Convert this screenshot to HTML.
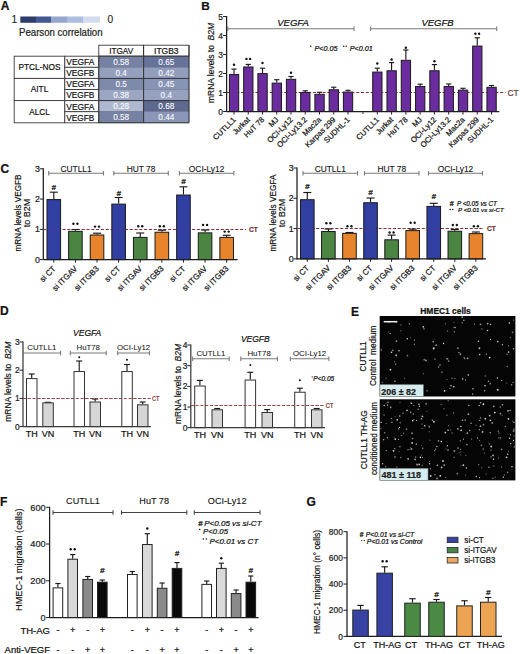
<!DOCTYPE html>
<html><head><meta charset="utf-8"><style>
html,body{margin:0;padding:0;background:#fff;}
svg{display:block;font-family:"Liberation Sans", sans-serif;}
</style></head><body>
<svg width="520" height="654" viewBox="0 0 520 654">
<rect width="520" height="654" fill="#fff"/>
<text x="0.8" y="9.8" font-size="12" fill="#111" font-weight="bold" stroke="#111" stroke-width="0.22">A</text>
<text x="11.5" y="23.2" font-size="10.2" fill="#222" stroke="#222" stroke-width="0.1">1</text>
<rect x="20.3" y="16.5" width="15.7" height="6.3" fill="#2f3d6c"/>
<rect x="35.8" y="16.5" width="15.7" height="6.3" fill="#435890"/>
<rect x="51.3" y="16.5" width="15.9" height="6.3" fill="#95a7ce"/>
<rect x="67" y="16.5" width="16.2" height="6.3" fill="#adbddf"/>
<rect x="83" y="16.5" width="16.9" height="6.3" fill="#d3dcec"/>
<text x="107.6" y="23.2" font-size="10.2" fill="#222" stroke="#222" stroke-width="0.1">0</text>
<text x="19" y="36" font-size="10" fill="#222" textLength="83.5" lengthAdjust="spacingAndGlyphs" stroke="#222" stroke-width="0.22">Pearson correlation</text>
<rect x="98.8" y="45.2" width="44.8" height="11" fill="#fff" stroke="#3a3a3a" stroke-width="0.9"/>
<rect x="143.6" y="45.2" width="45.4" height="11" fill="#fff" stroke="#3a3a3a" stroke-width="0.9"/>
<text x="121.2" y="53.8" font-size="8.8" fill="#111" text-anchor="middle" textLength="24" lengthAdjust="spacingAndGlyphs" stroke="#111" stroke-width="0.22">ITGAV</text>
<text x="166.3" y="53.8" font-size="8.8" fill="#111" text-anchor="middle" textLength="24.5" lengthAdjust="spacingAndGlyphs" stroke="#111" stroke-width="0.22">ITGB3</text>
<rect x="14.2" y="56.2" width="50.6" height="22.2" fill="#fff" stroke="#3a3a3a" stroke-width="0.9"/>
<text x="39.5" y="70.2" font-size="9.6" fill="#111" text-anchor="middle" textLength="42" lengthAdjust="spacingAndGlyphs" stroke="#111" stroke-width="0.22">PTCL-NOS</text>
<rect x="64.8" y="56.2" width="34" height="11.1" fill="#fff" stroke="#3a3a3a" stroke-width="0.9"/>
<text x="66.3" y="65.1" font-size="9" fill="#111" textLength="28" lengthAdjust="spacingAndGlyphs" stroke="#111" stroke-width="0.22">VEGFA</text>
<rect x="98.8" y="56.2" width="44.8" height="11.1" fill="#7582a3" stroke="#6a7184" stroke-width="0.5"/>
<rect x="143.6" y="56.2" width="45.4" height="11.1" fill="#66729a" stroke="#6a7184" stroke-width="0.5"/>
<text x="121.2" y="64.6" font-size="8.2" fill="#fff" text-anchor="middle" stroke="#fff" stroke-width="0.08">0.58</text>
<text x="166.3" y="64.6" font-size="8.2" fill="#fff" text-anchor="middle" stroke="#fff" stroke-width="0.08">0.65</text>
<rect x="64.8" y="67.3" width="34" height="11.1" fill="#fff" stroke="#3a3a3a" stroke-width="0.9"/>
<text x="66.3" y="76.2" font-size="9" fill="#111" textLength="28" lengthAdjust="spacingAndGlyphs" stroke="#111" stroke-width="0.22">VEGFB</text>
<rect x="98.8" y="67.3" width="44.8" height="11.1" fill="#95a0bf" stroke="#6a7184" stroke-width="0.5"/>
<rect x="143.6" y="67.3" width="45.4" height="11.1" fill="#929ebc" stroke="#6a7184" stroke-width="0.5"/>
<text x="121.2" y="75.7" font-size="8.2" fill="#fff" text-anchor="middle" stroke="#fff" stroke-width="0.08">0.4</text>
<text x="166.3" y="75.7" font-size="8.2" fill="#fff" text-anchor="middle" stroke="#fff" stroke-width="0.08">0.42</text>
<rect x="14.2" y="78.4" width="50.6" height="22.2" fill="#fff" stroke="#3a3a3a" stroke-width="0.9"/>
<text x="39.5" y="92.4" font-size="9.6" fill="#111" text-anchor="middle" textLength="17.5" lengthAdjust="spacingAndGlyphs" stroke="#111" stroke-width="0.22">AITL</text>
<rect x="64.8" y="78.4" width="34" height="11.1" fill="#fff" stroke="#3a3a3a" stroke-width="0.9"/>
<text x="66.3" y="87.3" font-size="9" fill="#111" textLength="28" lengthAdjust="spacingAndGlyphs" stroke="#111" stroke-width="0.22">VEGFA</text>
<rect x="98.8" y="78.4" width="44.8" height="11.1" fill="#7e8aab" stroke="#6a7184" stroke-width="0.5"/>
<rect x="143.6" y="78.4" width="45.4" height="11.1" fill="#8894b6" stroke="#6a7184" stroke-width="0.5"/>
<text x="121.2" y="86.8" font-size="8.2" fill="#fff" text-anchor="middle" stroke="#fff" stroke-width="0.08">0.5</text>
<text x="166.3" y="86.8" font-size="8.2" fill="#fff" text-anchor="middle" stroke="#fff" stroke-width="0.08">0.45</text>
<rect x="64.8" y="89.5" width="34" height="11.1" fill="#fff" stroke="#3a3a3a" stroke-width="0.9"/>
<text x="66.3" y="98.4" font-size="9" fill="#111" textLength="28" lengthAdjust="spacingAndGlyphs" stroke="#111" stroke-width="0.22">VEGFB</text>
<rect x="98.8" y="89.5" width="44.8" height="11.1" fill="#9ba6c3" stroke="#6a7184" stroke-width="0.5"/>
<rect x="143.6" y="89.5" width="45.4" height="11.1" fill="#96a1bf" stroke="#6a7184" stroke-width="0.5"/>
<text x="121.2" y="97.9" font-size="8.2" fill="#fff" text-anchor="middle" stroke="#fff" stroke-width="0.08">0.38</text>
<text x="166.3" y="97.9" font-size="8.2" fill="#fff" text-anchor="middle" stroke="#fff" stroke-width="0.08">0.4</text>
<rect x="14.2" y="100.6" width="50.6" height="22.2" fill="#fff" stroke="#3a3a3a" stroke-width="0.9"/>
<text x="39.5" y="114.6" font-size="9.6" fill="#111" text-anchor="middle" textLength="20.5" lengthAdjust="spacingAndGlyphs" stroke="#111" stroke-width="0.22">ALCL</text>
<rect x="64.8" y="100.6" width="34" height="11.1" fill="#fff" stroke="#3a3a3a" stroke-width="0.9"/>
<text x="66.3" y="109.5" font-size="9" fill="#111" textLength="28" lengthAdjust="spacingAndGlyphs" stroke="#111" stroke-width="0.22">VEGFA</text>
<rect x="98.8" y="100.6" width="44.8" height="11.1" fill="#afb8d1" stroke="#6a7184" stroke-width="0.5"/>
<rect x="143.6" y="100.6" width="45.4" height="11.1" fill="#5d698f" stroke="#6a7184" stroke-width="0.5"/>
<text x="121.2" y="109" font-size="8.2" fill="#fff" text-anchor="middle" stroke="#fff" stroke-width="0.08">0.28</text>
<text x="166.3" y="109" font-size="8.2" fill="#fff" text-anchor="middle" stroke="#fff" stroke-width="0.08">0.68</text>
<rect x="64.8" y="111.7" width="34" height="11.1" fill="#fff" stroke="#3a3a3a" stroke-width="0.9"/>
<text x="66.3" y="120.6" font-size="9" fill="#111" textLength="28" lengthAdjust="spacingAndGlyphs" stroke="#111" stroke-width="0.22">VEGFB</text>
<rect x="98.8" y="111.7" width="44.8" height="11.1" fill="#7582a3" stroke="#6a7184" stroke-width="0.5"/>
<rect x="143.6" y="111.7" width="45.4" height="11.1" fill="#8b97b8" stroke="#6a7184" stroke-width="0.5"/>
<text x="121.2" y="120.1" font-size="8.2" fill="#fff" text-anchor="middle" stroke="#fff" stroke-width="0.08">0.58</text>
<text x="166.3" y="120.1" font-size="8.2" fill="#fff" text-anchor="middle" stroke="#fff" stroke-width="0.08">0.44</text>
<line x1="98.8" y1="56.2" x2="189" y2="56.2" stroke="#333" stroke-width="1.0"/>
<line x1="98.8" y1="78.4" x2="189" y2="78.4" stroke="#333" stroke-width="1.0"/>
<line x1="98.8" y1="100.6" x2="189" y2="100.6" stroke="#333" stroke-width="1.0"/>
<line x1="98.8" y1="122.8" x2="189" y2="122.8" stroke="#333" stroke-width="1.0"/>
<line x1="98.8" y1="56.2" x2="98.8" y2="122.8" stroke="#333" stroke-width="1.0"/>
<line x1="143.6" y1="45.2" x2="143.6" y2="122.8" stroke="#333" stroke-width="1.0"/>
<line x1="189" y1="45.2" x2="189" y2="122.8" stroke="#333" stroke-width="1.0"/>
<text x="201.3" y="9.5" font-size="11.8" fill="#111" font-weight="bold" stroke="#111" stroke-width="0.22">B</text>
<line x1="226.6" y1="16" x2="226.6" y2="112" stroke="#1c1c1c" stroke-width="1.25"/>
<line x1="223.1" y1="111.5" x2="226.6" y2="111.5" stroke="#222" stroke-width="1"/>
<text x="223" y="115" font-size="8.4" fill="#222" text-anchor="end" stroke="#222" stroke-width="0.22">0</text>
<line x1="223.1" y1="92.5" x2="226.6" y2="92.5" stroke="#222" stroke-width="1"/>
<text x="223" y="96" font-size="8.4" fill="#222" text-anchor="end" stroke="#222" stroke-width="0.22">1</text>
<line x1="223.1" y1="73.5" x2="226.6" y2="73.5" stroke="#222" stroke-width="1"/>
<text x="223" y="77" font-size="8.4" fill="#222" text-anchor="end" stroke="#222" stroke-width="0.22">2</text>
<line x1="223.1" y1="54.5" x2="226.6" y2="54.5" stroke="#222" stroke-width="1"/>
<text x="223" y="58" font-size="8.4" fill="#222" text-anchor="end" stroke="#222" stroke-width="0.22">3</text>
<line x1="223.1" y1="35.5" x2="226.6" y2="35.5" stroke="#222" stroke-width="1"/>
<text x="223" y="39" font-size="8.4" fill="#222" text-anchor="end" stroke="#222" stroke-width="0.22">4</text>
<line x1="223.1" y1="16.5" x2="226.6" y2="16.5" stroke="#222" stroke-width="1"/>
<text x="223" y="20" font-size="8.4" fill="#222" text-anchor="end" stroke="#222" stroke-width="0.22">5</text>
<line x1="226.6" y1="111.5" x2="499.3" y2="111.5" stroke="#1c1c1c" stroke-width="1.25"/>
<line x1="226.6" y1="92.5" x2="505.5" y2="92.5" stroke="#843030" stroke-width="1.0" stroke-dasharray="3,1.8"/>
<line x1="234" y1="74.07" x2="234" y2="69.1" stroke="#1a1a1a" stroke-width="1.15"/>
<line x1="231.4" y1="69.1" x2="236.6" y2="69.1" stroke="#1a1a1a" stroke-width="1.15"/>
<rect x="229.4" y="74.57" width="9.3" height="36.93" fill="#6a2c9e" stroke="#1a1a1a" stroke-width="1.0"/>
<line x1="234" y1="111.5" x2="234" y2="114.5" stroke="#222" stroke-width="1"/>
<circle cx="234" cy="64.7" r="1.2" fill="#111"/>
<text x="236.3" y="120.3" font-size="7.7" fill="#111" text-anchor="end" transform="rotate(-45 236.3 120.3)" stroke="#111" stroke-width="0.22">CUTLL1</text>
<line x1="248.25" y1="66.47" x2="248.25" y2="64.4" stroke="#1a1a1a" stroke-width="1.15"/>
<line x1="245.65" y1="64.4" x2="250.85" y2="64.4" stroke="#1a1a1a" stroke-width="1.15"/>
<rect x="243.65" y="66.97" width="9.3" height="44.53" fill="#6a2c9e" stroke="#1a1a1a" stroke-width="1.0"/>
<line x1="248.25" y1="111.5" x2="248.25" y2="114.5" stroke="#222" stroke-width="1"/>
<circle cx="246.4" cy="58.9" r="1.2" fill="#111"/>
<circle cx="250.1" cy="58.9" r="1.2" fill="#111"/>
<text x="250.55" y="120.3" font-size="7.7" fill="#111" text-anchor="end" transform="rotate(-45 250.55 120.3)" stroke="#111" stroke-width="0.22">Jurkat</text>
<line x1="262.5" y1="73.12" x2="262.5" y2="68.2" stroke="#1a1a1a" stroke-width="1.15"/>
<line x1="259.9" y1="68.2" x2="265.1" y2="68.2" stroke="#1a1a1a" stroke-width="1.15"/>
<rect x="257.9" y="73.62" width="9.3" height="37.88" fill="#6a2c9e" stroke="#1a1a1a" stroke-width="1.0"/>
<line x1="262.5" y1="111.5" x2="262.5" y2="114.5" stroke="#222" stroke-width="1"/>
<circle cx="262.5" cy="63" r="1.2" fill="#111"/>
<text x="264.8" y="120.3" font-size="7.7" fill="#111" text-anchor="end" transform="rotate(-45 264.8 120.3)" stroke="#111" stroke-width="0.22">HuT 78</text>
<line x1="276.75" y1="82.62" x2="276.75" y2="79.7" stroke="#1a1a1a" stroke-width="1.15"/>
<line x1="274.15" y1="79.7" x2="279.35" y2="79.7" stroke="#1a1a1a" stroke-width="1.15"/>
<rect x="272.15" y="83.12" width="9.3" height="28.38" fill="#6a2c9e" stroke="#1a1a1a" stroke-width="1.0"/>
<line x1="276.75" y1="111.5" x2="276.75" y2="114.5" stroke="#222" stroke-width="1"/>
<text x="279.05" y="120.3" font-size="7.7" fill="#111" text-anchor="end" transform="rotate(-45 279.05 120.3)" stroke="#111" stroke-width="0.22">MJ</text>
<line x1="291" y1="78.82" x2="291" y2="76.5" stroke="#1a1a1a" stroke-width="1.15"/>
<line x1="288.4" y1="76.5" x2="293.6" y2="76.5" stroke="#1a1a1a" stroke-width="1.15"/>
<rect x="286.4" y="79.32" width="9.3" height="32.18" fill="#6a2c9e" stroke="#1a1a1a" stroke-width="1.0"/>
<line x1="291" y1="111.5" x2="291" y2="114.5" stroke="#222" stroke-width="1"/>
<circle cx="291" cy="72.7" r="1.2" fill="#111"/>
<text x="293.3" y="120.3" font-size="7.7" fill="#111" text-anchor="end" transform="rotate(-45 293.3 120.3)" stroke="#111" stroke-width="0.22">OCI-Ly12</text>
<line x1="305.25" y1="91.93" x2="305.25" y2="90.8" stroke="#1a1a1a" stroke-width="1.15"/>
<line x1="302.65" y1="90.8" x2="307.85" y2="90.8" stroke="#1a1a1a" stroke-width="1.15"/>
<rect x="300.65" y="92.43" width="9.3" height="19.07" fill="#6a2c9e" stroke="#1a1a1a" stroke-width="1.0"/>
<line x1="305.25" y1="111.5" x2="305.25" y2="114.5" stroke="#222" stroke-width="1"/>
<text x="307.55" y="120.3" font-size="7.7" fill="#111" text-anchor="end" transform="rotate(-45 307.55 120.3)" stroke="#111" stroke-width="0.22">OCI-Ly13.2</text>
<line x1="319.5" y1="93.83" x2="319.5" y2="92.3" stroke="#1a1a1a" stroke-width="1.15"/>
<line x1="316.9" y1="92.3" x2="322.1" y2="92.3" stroke="#1a1a1a" stroke-width="1.15"/>
<rect x="314.9" y="94.33" width="9.3" height="17.17" fill="#6a2c9e" stroke="#1a1a1a" stroke-width="1.0"/>
<line x1="319.5" y1="111.5" x2="319.5" y2="114.5" stroke="#222" stroke-width="1"/>
<text x="321.8" y="120.3" font-size="7.7" fill="#111" text-anchor="end" transform="rotate(-45 321.8 120.3)" stroke="#111" stroke-width="0.22">Mac2a</text>
<line x1="333.75" y1="89.27" x2="333.75" y2="87.2" stroke="#1a1a1a" stroke-width="1.15"/>
<line x1="331.15" y1="87.2" x2="336.35" y2="87.2" stroke="#1a1a1a" stroke-width="1.15"/>
<rect x="329.15" y="89.77" width="9.3" height="21.73" fill="#6a2c9e" stroke="#1a1a1a" stroke-width="1.0"/>
<line x1="333.75" y1="111.5" x2="333.75" y2="114.5" stroke="#222" stroke-width="1"/>
<text x="336.05" y="120.3" font-size="7.7" fill="#111" text-anchor="end" transform="rotate(-45 336.05 120.3)" stroke="#111" stroke-width="0.22">Karpas 299</text>
<line x1="348" y1="91.55" x2="348" y2="90.3" stroke="#1a1a1a" stroke-width="1.15"/>
<line x1="345.4" y1="90.3" x2="350.6" y2="90.3" stroke="#1a1a1a" stroke-width="1.15"/>
<rect x="343.4" y="92.05" width="9.3" height="19.45" fill="#6a2c9e" stroke="#1a1a1a" stroke-width="1.0"/>
<line x1="348" y1="111.5" x2="348" y2="114.5" stroke="#222" stroke-width="1"/>
<text x="350.3" y="120.3" font-size="7.7" fill="#111" text-anchor="end" transform="rotate(-45 350.3 120.3)" stroke="#111" stroke-width="0.22">SUDHL-1</text>
<line x1="377.3" y1="71.6" x2="377.3" y2="68.2" stroke="#1a1a1a" stroke-width="1.15"/>
<line x1="374.7" y1="68.2" x2="379.9" y2="68.2" stroke="#1a1a1a" stroke-width="1.15"/>
<rect x="372.7" y="72.1" width="9.3" height="39.4" fill="#6a2c9e" stroke="#1a1a1a" stroke-width="1.0"/>
<line x1="377.3" y1="111.5" x2="377.3" y2="114.5" stroke="#222" stroke-width="1"/>
<circle cx="377.3" cy="63.5" r="1.2" fill="#111"/>
<text x="379.6" y="120.3" font-size="7.7" fill="#111" text-anchor="end" transform="rotate(-45 379.6 120.3)" stroke="#111" stroke-width="0.22">CUTLL1</text>
<line x1="391.58" y1="70.27" x2="391.58" y2="62.6" stroke="#1a1a1a" stroke-width="1.15"/>
<line x1="388.98" y1="62.6" x2="394.18" y2="62.6" stroke="#1a1a1a" stroke-width="1.15"/>
<rect x="386.98" y="70.77" width="9.3" height="40.73" fill="#6a2c9e" stroke="#1a1a1a" stroke-width="1.0"/>
<line x1="391.58" y1="111.5" x2="391.58" y2="114.5" stroke="#222" stroke-width="1"/>
<circle cx="391.58" cy="59.5" r="1.2" fill="#111"/>
<text x="393.88" y="120.3" font-size="7.7" fill="#111" text-anchor="end" transform="rotate(-45 393.88 120.3)" stroke="#111" stroke-width="0.22">Jurkat</text>
<line x1="405.86" y1="59.82" x2="405.86" y2="50" stroke="#1a1a1a" stroke-width="1.15"/>
<line x1="403.26" y1="50" x2="408.46" y2="50" stroke="#1a1a1a" stroke-width="1.15"/>
<rect x="401.26" y="60.32" width="9.3" height="51.18" fill="#6a2c9e" stroke="#1a1a1a" stroke-width="1.0"/>
<line x1="405.86" y1="111.5" x2="405.86" y2="114.5" stroke="#222" stroke-width="1"/>
<circle cx="405.86" cy="47.7" r="1.2" fill="#111"/>
<text x="408.16" y="120.3" font-size="7.7" fill="#111" text-anchor="end" transform="rotate(-45 408.16 120.3)" stroke="#111" stroke-width="0.22">HuT 78</text>
<line x1="420.14" y1="86.04" x2="420.14" y2="84.2" stroke="#1a1a1a" stroke-width="1.15"/>
<line x1="417.54" y1="84.2" x2="422.74" y2="84.2" stroke="#1a1a1a" stroke-width="1.15"/>
<rect x="415.54" y="86.54" width="9.3" height="24.96" fill="#6a2c9e" stroke="#1a1a1a" stroke-width="1.0"/>
<line x1="420.14" y1="111.5" x2="420.14" y2="114.5" stroke="#222" stroke-width="1"/>
<text x="422.44" y="120.3" font-size="7.7" fill="#111" text-anchor="end" transform="rotate(-45 422.44 120.3)" stroke="#111" stroke-width="0.22">MJ</text>
<line x1="434.42" y1="70.27" x2="434.42" y2="64.6" stroke="#1a1a1a" stroke-width="1.15"/>
<line x1="431.82" y1="64.6" x2="437.02" y2="64.6" stroke="#1a1a1a" stroke-width="1.15"/>
<rect x="429.82" y="70.77" width="9.3" height="40.73" fill="#6a2c9e" stroke="#1a1a1a" stroke-width="1.0"/>
<line x1="434.42" y1="111.5" x2="434.42" y2="114.5" stroke="#222" stroke-width="1"/>
<circle cx="434.42" cy="61.2" r="1.2" fill="#111"/>
<text x="436.72" y="120.3" font-size="7.7" fill="#111" text-anchor="end" transform="rotate(-45 436.72 120.3)" stroke="#111" stroke-width="0.22">OCI-Ly12</text>
<line x1="448.7" y1="86.04" x2="448.7" y2="84" stroke="#1a1a1a" stroke-width="1.15"/>
<line x1="446.1" y1="84" x2="451.3" y2="84" stroke="#1a1a1a" stroke-width="1.15"/>
<rect x="444.1" y="86.54" width="9.3" height="24.96" fill="#6a2c9e" stroke="#1a1a1a" stroke-width="1.0"/>
<line x1="448.7" y1="111.5" x2="448.7" y2="114.5" stroke="#222" stroke-width="1"/>
<text x="451" y="120.3" font-size="7.7" fill="#111" text-anchor="end" transform="rotate(-45 451 120.3)" stroke="#111" stroke-width="0.22">OCI-Ly13.2</text>
<line x1="462.98" y1="89.65" x2="462.98" y2="88.3" stroke="#1a1a1a" stroke-width="1.15"/>
<line x1="460.38" y1="88.3" x2="465.58" y2="88.3" stroke="#1a1a1a" stroke-width="1.15"/>
<rect x="458.38" y="90.15" width="9.3" height="21.35" fill="#6a2c9e" stroke="#1a1a1a" stroke-width="1.0"/>
<line x1="462.98" y1="111.5" x2="462.98" y2="114.5" stroke="#222" stroke-width="1"/>
<text x="465.28" y="120.3" font-size="7.7" fill="#111" text-anchor="end" transform="rotate(-45 465.28 120.3)" stroke="#111" stroke-width="0.22">Mac2a</text>
<line x1="477.26" y1="45.57" x2="477.26" y2="37.8" stroke="#1a1a1a" stroke-width="1.15"/>
<line x1="474.66" y1="37.8" x2="479.86" y2="37.8" stroke="#1a1a1a" stroke-width="1.15"/>
<rect x="472.66" y="46.07" width="9.3" height="65.43" fill="#6a2c9e" stroke="#1a1a1a" stroke-width="1.0"/>
<line x1="477.26" y1="111.5" x2="477.26" y2="114.5" stroke="#222" stroke-width="1"/>
<circle cx="475.41" cy="33.8" r="1.2" fill="#111"/>
<circle cx="479.11" cy="33.8" r="1.2" fill="#111"/>
<text x="479.56" y="120.3" font-size="7.7" fill="#111" text-anchor="end" transform="rotate(-45 479.56 120.3)" stroke="#111" stroke-width="0.22">Karpas 299</text>
<line x1="491.54" y1="86.8" x2="491.54" y2="85.5" stroke="#1a1a1a" stroke-width="1.15"/>
<line x1="488.94" y1="85.5" x2="494.14" y2="85.5" stroke="#1a1a1a" stroke-width="1.15"/>
<rect x="486.94" y="87.3" width="9.3" height="24.2" fill="#6a2c9e" stroke="#1a1a1a" stroke-width="1.0"/>
<line x1="491.54" y1="111.5" x2="491.54" y2="114.5" stroke="#222" stroke-width="1"/>
<text x="493.84" y="120.3" font-size="7.7" fill="#111" text-anchor="end" transform="rotate(-45 493.84 120.3)" stroke="#111" stroke-width="0.22">SUDHL-1</text>
<line x1="363" y1="111.5" x2="363" y2="114" stroke="#222" stroke-width="0.9"/>
<line x1="226.6" y1="92.5" x2="505.5" y2="92.5" stroke="#843030" stroke-width="1.0" stroke-dasharray="3,1.8" stroke-opacity="0.2"/>
<text x="507.4" y="96" font-size="9.0" fill="#654040" textLength="11.3" lengthAdjust="spacingAndGlyphs" stroke="#654040" stroke-width="0.22">CT</text>
<line x1="227.7" y1="28.7" x2="354" y2="28.7" stroke="#7a7a7a" stroke-width="1.1"/>
<line x1="227.7" y1="26.5" x2="227.7" y2="30.9" stroke="#7a7a7a" stroke-width="1.1"/>
<line x1="354" y1="26.5" x2="354" y2="30.9" stroke="#7a7a7a" stroke-width="1.1"/>
<line x1="370.6" y1="28.7" x2="496.7" y2="28.7" stroke="#7a7a7a" stroke-width="1.1"/>
<line x1="370.6" y1="26.5" x2="370.6" y2="30.9" stroke="#7a7a7a" stroke-width="1.1"/>
<line x1="496.7" y1="26.5" x2="496.7" y2="30.9" stroke="#7a7a7a" stroke-width="1.1"/>
<text x="293" y="26" font-size="9.5" fill="#111" text-anchor="middle" font-style="italic" stroke="#111" stroke-width="0.22">VEGFA</text>
<text x="437.5" y="26" font-size="9.5" fill="#111" text-anchor="middle" font-style="italic" stroke="#111" stroke-width="0.22">VEGFB</text>
<circle cx="310.8" cy="46.2" r="0.75" fill="#111"/>
<text x="314.4" y="50.8" font-size="7.2" fill="#111" font-style="italic" textLength="23" lengthAdjust="spacingAndGlyphs" stroke="#111" stroke-width="0.22">P&lt;0.05</text>
<circle cx="343.7" cy="46.2" r="0.75" fill="#111"/>
<circle cx="346.1" cy="46.2" r="0.75" fill="#111"/>
<text x="349.7" y="50.8" font-size="7.2" fill="#111" font-style="italic" textLength="23" lengthAdjust="spacingAndGlyphs" stroke="#111" stroke-width="0.22">P&lt;0.01</text>
<text transform="translate(214.3 63) rotate(-90)" font-size="9.3" text-anchor="middle" fill="#111" stroke="#111" stroke-width="0.18" textLength="80" lengthAdjust="spacingAndGlyphs">mRNA levels to&#160;&#160;<tspan font-style="italic">B2M</tspan></text>
<text x="0.4" y="172.8" font-size="12" fill="#111" font-weight="bold" stroke="#111" stroke-width="0.22">C</text>
<line x1="43.3" y1="168.3" x2="43.3" y2="260.1" stroke="#1c1c1c" stroke-width="1.25"/>
<line x1="39.8" y1="259.6" x2="43.3" y2="259.6" stroke="#222" stroke-width="1"/>
<text x="39.9" y="262.6" font-size="8.9" fill="#222" text-anchor="end" stroke="#222" stroke-width="0.22">0</text>
<line x1="39.8" y1="229.33" x2="43.3" y2="229.33" stroke="#222" stroke-width="1"/>
<text x="39.9" y="232.33" font-size="8.9" fill="#222" text-anchor="end" stroke="#222" stroke-width="0.22">1</text>
<line x1="39.8" y1="199.07" x2="43.3" y2="199.07" stroke="#222" stroke-width="1"/>
<text x="39.9" y="202.07" font-size="8.9" fill="#222" text-anchor="end" stroke="#222" stroke-width="0.22">2</text>
<line x1="39.8" y1="168.8" x2="43.3" y2="168.8" stroke="#222" stroke-width="1"/>
<text x="39.9" y="171.8" font-size="8.9" fill="#222" text-anchor="end" stroke="#222" stroke-width="0.22">3</text>
<line x1="43.3" y1="229.5" x2="246" y2="229.5" stroke="#843030" stroke-width="1.0" stroke-dasharray="3,1.8"/>
<line x1="53.8" y1="199.07" x2="53.8" y2="192.2" stroke="#1a1a1a" stroke-width="1.15"/>
<line x1="49.8" y1="192.2" x2="57.8" y2="192.2" stroke="#1a1a1a" stroke-width="1.15"/>
<rect x="47" y="199.57" width="13.6" height="60.03" fill="#313ea2" stroke="#1a1a1a" stroke-width="1.0"/>
<line x1="53.8" y1="259.6" x2="53.8" y2="262.6" stroke="#222" stroke-width="1"/>
<text x="53.8" y="190.3" font-size="8" fill="#111" text-anchor="middle" font-weight="bold" font-style="italic" stroke="#111" stroke-width="0.22">#</text>
<text x="56.2" y="269.2" font-size="8" fill="#111" text-anchor="end" transform="rotate(-45 56.2 269.2)" stroke="#111" stroke-width="0.22">si CT</text>
<line x1="75.41" y1="230.85" x2="75.41" y2="229.5" stroke="#1a1a1a" stroke-width="1.15"/>
<line x1="71.41" y1="229.5" x2="79.41" y2="229.5" stroke="#1a1a1a" stroke-width="1.15"/>
<rect x="68.61" y="231.35" width="13.6" height="28.25" fill="#4a8542" stroke="#1a1a1a" stroke-width="1.0"/>
<line x1="75.41" y1="259.6" x2="75.41" y2="262.6" stroke="#222" stroke-width="1"/>
<circle cx="73.41" cy="223.8" r="1.2" fill="#111"/>
<circle cx="77.41" cy="223.8" r="1.2" fill="#111"/>
<text x="77.81" y="269.2" font-size="8" fill="#111" text-anchor="end" transform="rotate(-45 77.81 269.2)" stroke="#111" stroke-width="0.22">si ITGAV</text>
<line x1="97.02" y1="234.48" x2="97.02" y2="233.2" stroke="#1a1a1a" stroke-width="1.15"/>
<line x1="93.02" y1="233.2" x2="101.02" y2="233.2" stroke="#1a1a1a" stroke-width="1.15"/>
<rect x="90.22" y="234.98" width="13.6" height="24.62" fill="#e8852c" stroke="#1a1a1a" stroke-width="1.0"/>
<line x1="97.02" y1="259.6" x2="97.02" y2="262.6" stroke="#222" stroke-width="1"/>
<circle cx="95.02" cy="226.6" r="1.2" fill="#111"/>
<circle cx="99.02" cy="226.6" r="1.2" fill="#111"/>
<text x="99.42" y="269.2" font-size="8" fill="#111" text-anchor="end" transform="rotate(-45 99.42 269.2)" stroke="#111" stroke-width="0.22">si ITGB3</text>
<line x1="118.63" y1="203.61" x2="118.63" y2="197.5" stroke="#1a1a1a" stroke-width="1.15"/>
<line x1="114.63" y1="197.5" x2="122.63" y2="197.5" stroke="#1a1a1a" stroke-width="1.15"/>
<rect x="111.83" y="204.11" width="13.6" height="55.49" fill="#313ea2" stroke="#1a1a1a" stroke-width="1.0"/>
<line x1="118.63" y1="259.6" x2="118.63" y2="262.6" stroke="#222" stroke-width="1"/>
<text x="118.63" y="196" font-size="8" fill="#111" text-anchor="middle" font-weight="bold" font-style="italic" stroke="#111" stroke-width="0.22">#</text>
<text x="121.03" y="269.2" font-size="8" fill="#111" text-anchor="end" transform="rotate(-45 121.03 269.2)" stroke="#111" stroke-width="0.22">si CT</text>
<line x1="140.24" y1="236.9" x2="140.24" y2="233" stroke="#1a1a1a" stroke-width="1.15"/>
<line x1="136.24" y1="233" x2="144.24" y2="233" stroke="#1a1a1a" stroke-width="1.15"/>
<rect x="133.44" y="237.4" width="13.6" height="22.2" fill="#4a8542" stroke="#1a1a1a" stroke-width="1.0"/>
<line x1="140.24" y1="259.6" x2="140.24" y2="262.6" stroke="#222" stroke-width="1"/>
<circle cx="138.24" cy="226.2" r="1.2" fill="#111"/>
<circle cx="142.24" cy="226.2" r="1.2" fill="#111"/>
<text x="142.64" y="269.2" font-size="8" fill="#111" text-anchor="end" transform="rotate(-45 142.64 269.2)" stroke="#111" stroke-width="0.22">si ITGAV</text>
<line x1="161.85" y1="231.75" x2="161.85" y2="230.2" stroke="#1a1a1a" stroke-width="1.15"/>
<line x1="157.85" y1="230.2" x2="165.85" y2="230.2" stroke="#1a1a1a" stroke-width="1.15"/>
<rect x="155.05" y="232.25" width="13.6" height="27.35" fill="#e8852c" stroke="#1a1a1a" stroke-width="1.0"/>
<line x1="161.85" y1="259.6" x2="161.85" y2="262.6" stroke="#222" stroke-width="1"/>
<circle cx="159.85" cy="226.2" r="1.2" fill="#111"/>
<circle cx="163.85" cy="226.2" r="1.2" fill="#111"/>
<text x="164.25" y="269.2" font-size="8" fill="#111" text-anchor="end" transform="rotate(-45 164.25 269.2)" stroke="#111" stroke-width="0.22">si ITGB3</text>
<line x1="183.46" y1="194.53" x2="183.46" y2="186.8" stroke="#1a1a1a" stroke-width="1.15"/>
<line x1="179.46" y1="186.8" x2="187.46" y2="186.8" stroke="#1a1a1a" stroke-width="1.15"/>
<rect x="176.66" y="195.03" width="13.6" height="64.57" fill="#313ea2" stroke="#1a1a1a" stroke-width="1.0"/>
<line x1="183.46" y1="259.6" x2="183.46" y2="262.6" stroke="#222" stroke-width="1"/>
<text x="183.46" y="183.7" font-size="8" fill="#111" text-anchor="middle" font-weight="bold" font-style="italic" stroke="#111" stroke-width="0.22">#</text>
<text x="185.86" y="269.2" font-size="8" fill="#111" text-anchor="end" transform="rotate(-45 185.86 269.2)" stroke="#111" stroke-width="0.22">si CT</text>
<line x1="205.07" y1="232.36" x2="205.07" y2="230" stroke="#1a1a1a" stroke-width="1.15"/>
<line x1="201.07" y1="230" x2="209.07" y2="230" stroke="#1a1a1a" stroke-width="1.15"/>
<rect x="198.27" y="232.86" width="13.6" height="26.74" fill="#4a8542" stroke="#1a1a1a" stroke-width="1.0"/>
<line x1="205.07" y1="259.6" x2="205.07" y2="262.6" stroke="#222" stroke-width="1"/>
<circle cx="203.07" cy="224.9" r="1.2" fill="#111"/>
<circle cx="207.07" cy="224.9" r="1.2" fill="#111"/>
<text x="207.47" y="269.2" font-size="8" fill="#111" text-anchor="end" transform="rotate(-45 207.47 269.2)" stroke="#111" stroke-width="0.22">si ITGAV</text>
<line x1="226.68" y1="236.9" x2="226.68" y2="235.3" stroke="#1a1a1a" stroke-width="1.15"/>
<line x1="222.68" y1="235.3" x2="230.68" y2="235.3" stroke="#1a1a1a" stroke-width="1.15"/>
<rect x="219.88" y="237.4" width="13.6" height="22.2" fill="#e8852c" stroke="#1a1a1a" stroke-width="1.0"/>
<line x1="226.68" y1="259.6" x2="226.68" y2="262.6" stroke="#222" stroke-width="1"/>
<circle cx="224.68" cy="231.6" r="1.2" fill="#111"/>
<circle cx="228.68" cy="231.6" r="1.2" fill="#111"/>
<text x="229.08" y="269.2" font-size="8" fill="#111" text-anchor="end" transform="rotate(-45 229.08 269.2)" stroke="#111" stroke-width="0.22">si ITGB3</text>
<line x1="43.3" y1="259.6" x2="237.6" y2="259.6" stroke="#1c1c1c" stroke-width="1.25"/>
<line x1="43.3" y1="229.5" x2="246" y2="229.5" stroke="#843030" stroke-width="1.0" stroke-dasharray="3,1.8" stroke-opacity="0.2"/>
<line x1="48.7" y1="173.3" x2="103.5" y2="173.3" stroke="#7a7a7a" stroke-width="1.1"/>
<line x1="48.7" y1="171.1" x2="48.7" y2="175.5" stroke="#7a7a7a" stroke-width="1.1"/>
<line x1="103.5" y1="171.1" x2="103.5" y2="175.5" stroke="#7a7a7a" stroke-width="1.1"/>
<text x="76.1" y="171.6" font-size="8.4" fill="#111" text-anchor="middle" stroke="#111" stroke-width="0.1">CUTLL1</text>
<line x1="113.8" y1="173.3" x2="168.3" y2="173.3" stroke="#7a7a7a" stroke-width="1.1"/>
<line x1="113.8" y1="171.1" x2="113.8" y2="175.5" stroke="#7a7a7a" stroke-width="1.1"/>
<line x1="168.3" y1="171.1" x2="168.3" y2="175.5" stroke="#7a7a7a" stroke-width="1.1"/>
<text x="141.05" y="171.6" font-size="8.4" fill="#111" text-anchor="middle" stroke="#111" stroke-width="0.1">HUT 78</text>
<line x1="179.4" y1="173.3" x2="233.8" y2="173.3" stroke="#7a7a7a" stroke-width="1.1"/>
<line x1="179.4" y1="171.1" x2="179.4" y2="175.5" stroke="#7a7a7a" stroke-width="1.1"/>
<line x1="233.8" y1="171.1" x2="233.8" y2="175.5" stroke="#7a7a7a" stroke-width="1.1"/>
<text x="206.6" y="171.6" font-size="8.4" fill="#111" text-anchor="middle" stroke="#111" stroke-width="0.1">OCI-Ly12</text>
<text x="249" y="231.9" font-size="7.2" fill="#6a3535" font-weight="bold" textLength="8.8" lengthAdjust="spacingAndGlyphs" stroke="#6a3535" stroke-width="0.22">CT</text>
<text transform="translate(20.6 213) rotate(-90)" font-size="8.3" text-anchor="middle" fill="#111" stroke="#111" stroke-width="0.18" textLength="77" lengthAdjust="spacingAndGlyphs">mRNA levels VEGFB</text>
<text transform="translate(29.6 213) rotate(-90)" font-size="8.3" text-anchor="middle" fill="#111" stroke="#111" stroke-width="0.18" textLength="28.3" lengthAdjust="spacingAndGlyphs">to B2M</text>
<line x1="297" y1="167.5" x2="297" y2="259.4" stroke="#1c1c1c" stroke-width="1.25"/>
<line x1="293.5" y1="258.9" x2="297" y2="258.9" stroke="#222" stroke-width="1"/>
<text x="293.6" y="261.9" font-size="8.9" fill="#222" text-anchor="end" stroke="#222" stroke-width="0.22">0</text>
<line x1="293.5" y1="228.6" x2="297" y2="228.6" stroke="#222" stroke-width="1"/>
<text x="293.6" y="231.6" font-size="8.9" fill="#222" text-anchor="end" stroke="#222" stroke-width="0.22">1</text>
<line x1="293.5" y1="198.3" x2="297" y2="198.3" stroke="#222" stroke-width="1"/>
<text x="293.6" y="201.3" font-size="8.9" fill="#222" text-anchor="end" stroke="#222" stroke-width="0.22">2</text>
<line x1="293.5" y1="168" x2="297" y2="168" stroke="#222" stroke-width="1"/>
<text x="293.6" y="171" font-size="8.9" fill="#222" text-anchor="end" stroke="#222" stroke-width="0.22">3</text>
<line x1="297" y1="228.5" x2="484" y2="228.5" stroke="#843030" stroke-width="1.0" stroke-dasharray="3,1.8"/>
<line x1="307.3" y1="199.21" x2="307.3" y2="192.5" stroke="#1a1a1a" stroke-width="1.15"/>
<line x1="303.3" y1="192.5" x2="311.3" y2="192.5" stroke="#1a1a1a" stroke-width="1.15"/>
<rect x="300.5" y="199.71" width="13.6" height="59.19" fill="#313ea2" stroke="#1a1a1a" stroke-width="1.0"/>
<line x1="307.3" y1="258.9" x2="307.3" y2="261.9" stroke="#222" stroke-width="1"/>
<text x="307.3" y="189" font-size="8" fill="#111" text-anchor="middle" font-weight="bold" font-style="italic" stroke="#111" stroke-width="0.22">#</text>
<text x="309.7" y="268.5" font-size="8" fill="#111" text-anchor="end" transform="rotate(-45 309.7 268.5)" stroke="#111" stroke-width="0.22">si CT</text>
<line x1="328.38" y1="231.02" x2="328.38" y2="229" stroke="#1a1a1a" stroke-width="1.15"/>
<line x1="324.38" y1="229" x2="332.38" y2="229" stroke="#1a1a1a" stroke-width="1.15"/>
<rect x="321.57" y="231.52" width="13.6" height="27.38" fill="#4a8542" stroke="#1a1a1a" stroke-width="1.0"/>
<line x1="328.38" y1="258.9" x2="328.38" y2="261.9" stroke="#222" stroke-width="1"/>
<circle cx="326.38" cy="223.2" r="1.2" fill="#111"/>
<circle cx="330.38" cy="223.2" r="1.2" fill="#111"/>
<text x="330.77" y="268.5" font-size="8" fill="#111" text-anchor="end" transform="rotate(-45 330.77 268.5)" stroke="#111" stroke-width="0.22">si ITGAV</text>
<line x1="349.45" y1="232.84" x2="349.45" y2="232.5" stroke="#1a1a1a" stroke-width="1.15"/>
<line x1="345.45" y1="232.5" x2="353.45" y2="232.5" stroke="#1a1a1a" stroke-width="1.15"/>
<rect x="342.65" y="233.34" width="13.6" height="25.56" fill="#e8852c" stroke="#1a1a1a" stroke-width="1.0"/>
<line x1="349.45" y1="258.9" x2="349.45" y2="261.9" stroke="#222" stroke-width="1"/>
<circle cx="347.45" cy="226.2" r="1.2" fill="#111"/>
<circle cx="351.45" cy="226.2" r="1.2" fill="#111"/>
<text x="351.85" y="268.5" font-size="8" fill="#111" text-anchor="end" transform="rotate(-45 351.85 268.5)" stroke="#111" stroke-width="0.22">si ITGB3</text>
<line x1="370.53" y1="202.24" x2="370.53" y2="198" stroke="#1a1a1a" stroke-width="1.15"/>
<line x1="366.53" y1="198" x2="374.53" y2="198" stroke="#1a1a1a" stroke-width="1.15"/>
<rect x="363.73" y="202.74" width="13.6" height="56.16" fill="#313ea2" stroke="#1a1a1a" stroke-width="1.0"/>
<line x1="370.53" y1="258.9" x2="370.53" y2="261.9" stroke="#222" stroke-width="1"/>
<text x="370.53" y="195.2" font-size="8" fill="#111" text-anchor="middle" font-weight="bold" font-style="italic" stroke="#111" stroke-width="0.22">#</text>
<text x="372.93" y="268.5" font-size="8" fill="#111" text-anchor="end" transform="rotate(-45 372.93 268.5)" stroke="#111" stroke-width="0.22">si CT</text>
<line x1="391.6" y1="239.3" x2="391.6" y2="235.1" stroke="#1a1a1a" stroke-width="1.15"/>
<line x1="387.6" y1="235.1" x2="395.6" y2="235.1" stroke="#1a1a1a" stroke-width="1.15"/>
<rect x="384.8" y="239.8" width="13.6" height="19.1" fill="#4a8542" stroke="#1a1a1a" stroke-width="1.0"/>
<line x1="391.6" y1="258.9" x2="391.6" y2="261.9" stroke="#222" stroke-width="1"/>
<circle cx="389.6" cy="232.5" r="1.2" fill="#111"/>
<circle cx="393.6" cy="232.5" r="1.2" fill="#111"/>
<text x="394" y="268.5" font-size="8" fill="#111" text-anchor="end" transform="rotate(-45 394 268.5)" stroke="#111" stroke-width="0.22">si ITGAV</text>
<line x1="412.68" y1="230.11" x2="412.68" y2="229.1" stroke="#1a1a1a" stroke-width="1.15"/>
<line x1="408.68" y1="229.1" x2="416.68" y2="229.1" stroke="#1a1a1a" stroke-width="1.15"/>
<rect x="405.88" y="230.61" width="13.6" height="28.28" fill="#e8852c" stroke="#1a1a1a" stroke-width="1.0"/>
<line x1="412.68" y1="258.9" x2="412.68" y2="261.9" stroke="#222" stroke-width="1"/>
<circle cx="410.68" cy="222.8" r="1.2" fill="#111"/>
<circle cx="414.68" cy="222.8" r="1.2" fill="#111"/>
<text x="415.07" y="268.5" font-size="8" fill="#111" text-anchor="end" transform="rotate(-45 415.07 268.5)" stroke="#111" stroke-width="0.22">si ITGB3</text>
<line x1="433.75" y1="205.88" x2="433.75" y2="203.3" stroke="#1a1a1a" stroke-width="1.15"/>
<line x1="429.75" y1="203.3" x2="437.75" y2="203.3" stroke="#1a1a1a" stroke-width="1.15"/>
<rect x="426.95" y="206.38" width="13.6" height="52.52" fill="#313ea2" stroke="#1a1a1a" stroke-width="1.0"/>
<line x1="433.75" y1="258.9" x2="433.75" y2="261.9" stroke="#222" stroke-width="1"/>
<text x="433.75" y="198.5" font-size="8" fill="#111" text-anchor="middle" font-weight="bold" font-style="italic" stroke="#111" stroke-width="0.22">#</text>
<text x="436.15" y="268.5" font-size="8" fill="#111" text-anchor="end" transform="rotate(-45 436.15 268.5)" stroke="#111" stroke-width="0.22">si CT</text>
<line x1="454.82" y1="230.72" x2="454.82" y2="229.5" stroke="#1a1a1a" stroke-width="1.15"/>
<line x1="450.82" y1="229.5" x2="458.82" y2="229.5" stroke="#1a1a1a" stroke-width="1.15"/>
<rect x="448.02" y="231.22" width="13.6" height="27.68" fill="#4a8542" stroke="#1a1a1a" stroke-width="1.0"/>
<line x1="454.82" y1="258.9" x2="454.82" y2="261.9" stroke="#222" stroke-width="1"/>
<circle cx="452.82" cy="225" r="1.2" fill="#111"/>
<circle cx="456.82" cy="225" r="1.2" fill="#111"/>
<text x="457.22" y="268.5" font-size="8" fill="#111" text-anchor="end" transform="rotate(-45 457.22 268.5)" stroke="#111" stroke-width="0.22">si ITGAV</text>
<line x1="475.9" y1="233.14" x2="475.9" y2="232" stroke="#1a1a1a" stroke-width="1.15"/>
<line x1="471.9" y1="232" x2="479.9" y2="232" stroke="#1a1a1a" stroke-width="1.15"/>
<rect x="469.1" y="233.64" width="13.6" height="25.25" fill="#e8852c" stroke="#1a1a1a" stroke-width="1.0"/>
<line x1="475.9" y1="258.9" x2="475.9" y2="261.9" stroke="#222" stroke-width="1"/>
<circle cx="473.9" cy="226.2" r="1.2" fill="#111"/>
<circle cx="477.9" cy="226.2" r="1.2" fill="#111"/>
<text x="478.3" y="268.5" font-size="8" fill="#111" text-anchor="end" transform="rotate(-45 478.3 268.5)" stroke="#111" stroke-width="0.22">si ITGB3</text>
<line x1="297" y1="258.9" x2="486" y2="258.9" stroke="#1c1c1c" stroke-width="1.25"/>
<line x1="297" y1="228.5" x2="484" y2="228.5" stroke="#843030" stroke-width="1.0" stroke-dasharray="3,1.8" stroke-opacity="0.2"/>
<line x1="303" y1="173.3" x2="357.5" y2="173.3" stroke="#7a7a7a" stroke-width="1.1"/>
<line x1="303" y1="171.1" x2="303" y2="175.5" stroke="#7a7a7a" stroke-width="1.1"/>
<line x1="357.5" y1="171.1" x2="357.5" y2="175.5" stroke="#7a7a7a" stroke-width="1.1"/>
<text x="330.25" y="171.6" font-size="8.4" fill="#111" text-anchor="middle" stroke="#111" stroke-width="0.1">CUTLL1</text>
<line x1="364.5" y1="173.3" x2="419" y2="173.3" stroke="#7a7a7a" stroke-width="1.1"/>
<line x1="364.5" y1="171.1" x2="364.5" y2="175.5" stroke="#7a7a7a" stroke-width="1.1"/>
<line x1="419" y1="171.1" x2="419" y2="175.5" stroke="#7a7a7a" stroke-width="1.1"/>
<text x="391.75" y="171.6" font-size="8.4" fill="#111" text-anchor="middle" stroke="#111" stroke-width="0.1">HUT 78</text>
<line x1="428.5" y1="173.3" x2="482.5" y2="173.3" stroke="#7a7a7a" stroke-width="1.1"/>
<line x1="428.5" y1="171.1" x2="428.5" y2="175.5" stroke="#7a7a7a" stroke-width="1.1"/>
<line x1="482.5" y1="171.1" x2="482.5" y2="175.5" stroke="#7a7a7a" stroke-width="1.1"/>
<text x="455.5" y="171.6" font-size="8.4" fill="#111" text-anchor="middle" stroke="#111" stroke-width="0.1">OCI-Ly12</text>
<text x="487" y="231.2" font-size="7.2" fill="#6a3535" font-weight="bold" textLength="8.8" lengthAdjust="spacingAndGlyphs" stroke="#6a3535" stroke-width="0.22">CT</text>
<text transform="translate(275.6 213) rotate(-90)" font-size="8.3" text-anchor="middle" fill="#111" stroke="#111" stroke-width="0.18" textLength="77" lengthAdjust="spacingAndGlyphs">mRNA levels VEGFA</text>
<text transform="translate(284.6 213) rotate(-90)" font-size="8.3" text-anchor="middle" fill="#111" stroke="#111" stroke-width="0.18" textLength="28.3" lengthAdjust="spacingAndGlyphs">to B2M</text>
<text x="451.6" y="206" font-size="7" fill="#111" text-anchor="middle" font-weight="bold" stroke="#111" stroke-width="0.22">#</text>
<text x="456.9" y="205.6" font-size="6.3" fill="#111" font-style="italic" textLength="40" lengthAdjust="spacingAndGlyphs" stroke="#111" stroke-width="0.22">P &lt;0.05 vs CT</text>
<circle cx="450.2" cy="209.6" r="0.75" fill="#111"/>
<circle cx="452.8" cy="209.6" r="0.75" fill="#111"/>
<text x="458.1" y="211.9" font-size="6.2" fill="#111" font-style="italic" textLength="45.6" lengthAdjust="spacingAndGlyphs" stroke="#111" stroke-width="0.22">P &lt;0.01 vs si-CT</text>
<text x="0.1" y="315.3" font-size="12" fill="#111" font-weight="bold" stroke="#111" stroke-width="0.22">D</text>
<line x1="23" y1="341.5" x2="23" y2="427.1" stroke="#3a3a3a" stroke-width="1.25"/>
<line x1="19.5" y1="426.6" x2="23" y2="426.6" stroke="#222" stroke-width="1"/>
<text x="19.6" y="429.6" font-size="8.4" fill="#222" text-anchor="end" stroke="#222" stroke-width="0.22">0</text>
<line x1="19.5" y1="398.4" x2="23" y2="398.4" stroke="#222" stroke-width="1"/>
<text x="19.6" y="401.4" font-size="8.4" fill="#222" text-anchor="end" stroke="#222" stroke-width="0.22">1</text>
<line x1="19.5" y1="370.2" x2="23" y2="370.2" stroke="#222" stroke-width="1"/>
<text x="19.6" y="373.2" font-size="8.4" fill="#222" text-anchor="end" stroke="#222" stroke-width="0.22">2</text>
<line x1="19.5" y1="342" x2="23" y2="342" stroke="#222" stroke-width="1"/>
<text x="19.6" y="345" font-size="8.4" fill="#222" text-anchor="end" stroke="#222" stroke-width="0.22">3</text>
<line x1="23" y1="398.5" x2="150.4" y2="398.5" stroke="#9a4040" stroke-width="0.95" stroke-dasharray="3,1.8"/>
<line x1="31.7" y1="378.1" x2="31.7" y2="374" stroke="#1a1a1a" stroke-width="1.15"/>
<line x1="28.7" y1="374" x2="34.7" y2="374" stroke="#1a1a1a" stroke-width="1.15"/>
<rect x="26.5" y="378.6" width="10.5" height="48" fill="#ffffff" stroke="#333" stroke-width="1.0"/>
<line x1="48" y1="402.35" x2="48" y2="402.3" stroke="#1a1a1a" stroke-width="1.15"/>
<line x1="45" y1="402.3" x2="51" y2="402.3" stroke="#1a1a1a" stroke-width="1.15"/>
<rect x="42.8" y="402.85" width="10.5" height="23.75" fill="#d6d6d6" stroke="#333" stroke-width="1.0"/>
<text x="31.7" y="437.2" font-size="9" fill="#111" text-anchor="middle" stroke="#111" stroke-width="0.22">TH</text>
<text x="48" y="437.2" font-size="9" fill="#111" text-anchor="middle" stroke="#111" stroke-width="0.22">VN</text>
<line x1="79.2" y1="371.05" x2="79.2" y2="361" stroke="#1a1a1a" stroke-width="1.15"/>
<line x1="76.2" y1="361" x2="82.2" y2="361" stroke="#1a1a1a" stroke-width="1.15"/>
<rect x="74" y="371.55" width="10.5" height="55.05" fill="#ffffff" stroke="#333" stroke-width="1.0"/>
<line x1="95.2" y1="401.5" x2="95.2" y2="399" stroke="#1a1a1a" stroke-width="1.15"/>
<line x1="92.2" y1="399" x2="98.2" y2="399" stroke="#1a1a1a" stroke-width="1.15"/>
<rect x="90" y="402" width="10.5" height="24.6" fill="#d6d6d6" stroke="#333" stroke-width="1.0"/>
<circle cx="79.2" cy="357.3" r="1.0" fill="#111"/>
<text x="79.2" y="437.2" font-size="9" fill="#111" text-anchor="middle" stroke="#111" stroke-width="0.22">TH</text>
<text x="95.2" y="437.2" font-size="9" fill="#111" text-anchor="middle" stroke="#111" stroke-width="0.22">VN</text>
<line x1="127" y1="371.05" x2="127" y2="364.5" stroke="#1a1a1a" stroke-width="1.15"/>
<line x1="124" y1="364.5" x2="130" y2="364.5" stroke="#1a1a1a" stroke-width="1.15"/>
<rect x="121.8" y="371.55" width="10.5" height="55.05" fill="#ffffff" stroke="#333" stroke-width="1.0"/>
<line x1="142.7" y1="404.32" x2="142.7" y2="402" stroke="#1a1a1a" stroke-width="1.15"/>
<line x1="139.7" y1="402" x2="145.7" y2="402" stroke="#1a1a1a" stroke-width="1.15"/>
<rect x="137.5" y="404.82" width="10.5" height="21.78" fill="#d6d6d6" stroke="#333" stroke-width="1.0"/>
<circle cx="127" cy="359.7" r="1.0" fill="#111"/>
<text x="127" y="437.2" font-size="9" fill="#111" text-anchor="middle" stroke="#111" stroke-width="0.22">TH</text>
<text x="142.7" y="437.2" font-size="9" fill="#111" text-anchor="middle" stroke="#111" stroke-width="0.22">VN</text>
<line x1="23" y1="426.6" x2="151" y2="426.6" stroke="#3a3a3a" stroke-width="1.25"/>
<line x1="23" y1="398.5" x2="150.4" y2="398.5" stroke="#9a4040" stroke-width="0.95" stroke-dasharray="3,1.8"/>
<line x1="23" y1="353" x2="60.6" y2="353" stroke="#7a7a7a" stroke-width="1.1"/>
<line x1="23" y1="350.8" x2="23" y2="355.2" stroke="#7a7a7a" stroke-width="1.1"/>
<line x1="60.6" y1="350.8" x2="60.6" y2="355.2" stroke="#7a7a7a" stroke-width="1.1"/>
<text x="41.8" y="349.7" font-size="7.8" fill="#111" text-anchor="middle" stroke="#111" stroke-width="0.05">CUTLL1</text>
<line x1="70.3" y1="353" x2="106.2" y2="353" stroke="#7a7a7a" stroke-width="1.1"/>
<line x1="70.3" y1="350.8" x2="70.3" y2="355.2" stroke="#7a7a7a" stroke-width="1.1"/>
<line x1="106.2" y1="350.8" x2="106.2" y2="355.2" stroke="#7a7a7a" stroke-width="1.1"/>
<text x="88.25" y="349.7" font-size="7.8" fill="#111" text-anchor="middle" stroke="#111" stroke-width="0.05">HuT78</text>
<line x1="117.7" y1="353" x2="149.5" y2="353" stroke="#7a7a7a" stroke-width="1.1"/>
<line x1="117.7" y1="350.8" x2="117.7" y2="355.2" stroke="#7a7a7a" stroke-width="1.1"/>
<line x1="149.5" y1="350.8" x2="149.5" y2="355.2" stroke="#7a7a7a" stroke-width="1.1"/>
<text x="133.6" y="349.7" font-size="7.8" fill="#111" text-anchor="middle" stroke="#111" stroke-width="0.05">OCI-Ly12</text>
<text x="151.9" y="400.7" font-size="7.4" fill="#8a4545" font-weight="bold" textLength="7.6" lengthAdjust="spacingAndGlyphs" stroke="#8a4545" stroke-width="0.05">CT</text>
<text x="87.2" y="335.7" font-size="8.5" fill="#111" text-anchor="middle" font-style="italic" stroke="#111" stroke-width="0.22">VEGFA</text>
<text transform="translate(11 381.7) rotate(-90)" font-size="9" text-anchor="middle" fill="#111" stroke="#111" stroke-width="0.18" textLength="80" lengthAdjust="spacingAndGlyphs">mRNA levels to&#160;&#160;<tspan font-style="italic">B2M</tspan></text>
<line x1="190.8" y1="344.5" x2="190.8" y2="428.2" stroke="#3a3a3a" stroke-width="1.25"/>
<line x1="187.3" y1="427.7" x2="190.8" y2="427.7" stroke="#222" stroke-width="1"/>
<text x="187.4" y="430.7" font-size="8.4" fill="#222" text-anchor="end" stroke="#222" stroke-width="0.22">0</text>
<line x1="187.3" y1="407.02" x2="190.8" y2="407.02" stroke="#222" stroke-width="1"/>
<text x="187.4" y="410.02" font-size="8.4" fill="#222" text-anchor="end" stroke="#222" stroke-width="0.22">1</text>
<line x1="187.3" y1="386.35" x2="190.8" y2="386.35" stroke="#222" stroke-width="1"/>
<text x="187.4" y="389.35" font-size="8.4" fill="#222" text-anchor="end" stroke="#222" stroke-width="0.22">2</text>
<line x1="187.3" y1="365.68" x2="190.8" y2="365.68" stroke="#222" stroke-width="1"/>
<text x="187.4" y="368.68" font-size="8.4" fill="#222" text-anchor="end" stroke="#222" stroke-width="0.22">3</text>
<line x1="187.3" y1="345" x2="190.8" y2="345" stroke="#222" stroke-width="1"/>
<text x="187.4" y="348" font-size="8.4" fill="#222" text-anchor="end" stroke="#222" stroke-width="0.22">4</text>
<line x1="190.8" y1="405.5" x2="323.9" y2="405.5" stroke="#9a4040" stroke-width="0.95" stroke-dasharray="3,1.8"/>
<line x1="199.9" y1="385.52" x2="199.9" y2="380.4" stroke="#1a1a1a" stroke-width="1.15"/>
<line x1="196.9" y1="380.4" x2="202.9" y2="380.4" stroke="#1a1a1a" stroke-width="1.15"/>
<rect x="194.7" y="386.02" width="10.5" height="41.68" fill="#ffffff" stroke="#333" stroke-width="1.0"/>
<line x1="217.2" y1="409.3" x2="217.2" y2="408.5" stroke="#1a1a1a" stroke-width="1.15"/>
<line x1="214.2" y1="408.5" x2="220.2" y2="408.5" stroke="#1a1a1a" stroke-width="1.15"/>
<rect x="212" y="409.8" width="10.5" height="17.9" fill="#d6d6d6" stroke="#333" stroke-width="1.0"/>
<text x="199.9" y="438.3" font-size="9" fill="#111" text-anchor="middle" stroke="#111" stroke-width="0.22">TH</text>
<text x="217.2" y="438.3" font-size="9" fill="#111" text-anchor="middle" stroke="#111" stroke-width="0.22">VN</text>
<line x1="250.3" y1="379.53" x2="250.3" y2="372.3" stroke="#1a1a1a" stroke-width="1.15"/>
<line x1="247.3" y1="372.3" x2="253.3" y2="372.3" stroke="#1a1a1a" stroke-width="1.15"/>
<rect x="245.1" y="380.03" width="10.5" height="47.67" fill="#ffffff" stroke="#333" stroke-width="1.0"/>
<line x1="267.2" y1="411.99" x2="267.2" y2="409.6" stroke="#1a1a1a" stroke-width="1.15"/>
<line x1="264.2" y1="409.6" x2="270.2" y2="409.6" stroke="#1a1a1a" stroke-width="1.15"/>
<rect x="262" y="412.49" width="10.5" height="15.21" fill="#d6d6d6" stroke="#333" stroke-width="1.0"/>
<circle cx="250.3" cy="365" r="1.0" fill="#111"/>
<text x="250.3" y="438.3" font-size="9" fill="#111" text-anchor="middle" stroke="#111" stroke-width="0.22">TH</text>
<text x="267.2" y="438.3" font-size="9" fill="#111" text-anchor="middle" stroke="#111" stroke-width="0.22">VN</text>
<line x1="299.9" y1="391.73" x2="299.9" y2="388.2" stroke="#1a1a1a" stroke-width="1.15"/>
<line x1="296.9" y1="388.2" x2="302.9" y2="388.2" stroke="#1a1a1a" stroke-width="1.15"/>
<rect x="294.7" y="392.23" width="10.5" height="35.47" fill="#ffffff" stroke="#333" stroke-width="1.0"/>
<line x1="316.7" y1="409.3" x2="316.7" y2="408.5" stroke="#1a1a1a" stroke-width="1.15"/>
<line x1="313.7" y1="408.5" x2="319.7" y2="408.5" stroke="#1a1a1a" stroke-width="1.15"/>
<rect x="311.5" y="409.8" width="10.5" height="17.9" fill="#d6d6d6" stroke="#333" stroke-width="1.0"/>
<circle cx="299.9" cy="380.3" r="1.0" fill="#111"/>
<text x="299.9" y="438.3" font-size="9" fill="#111" text-anchor="middle" stroke="#111" stroke-width="0.22">TH</text>
<text x="316.7" y="438.3" font-size="9" fill="#111" text-anchor="middle" stroke="#111" stroke-width="0.22">VN</text>
<line x1="190.8" y1="427.7" x2="325" y2="427.7" stroke="#3a3a3a" stroke-width="1.25"/>
<line x1="190.8" y1="405.5" x2="323.9" y2="405.5" stroke="#9a4040" stroke-width="0.95" stroke-dasharray="3,1.8"/>
<line x1="192.7" y1="358.8" x2="229.2" y2="358.8" stroke="#7a7a7a" stroke-width="1.1"/>
<line x1="192.7" y1="356.6" x2="192.7" y2="361" stroke="#7a7a7a" stroke-width="1.1"/>
<line x1="229.2" y1="356.6" x2="229.2" y2="361" stroke="#7a7a7a" stroke-width="1.1"/>
<text x="210.95" y="355.5" font-size="7.8" fill="#111" text-anchor="middle" stroke="#111" stroke-width="0.05">CUTLL1</text>
<line x1="240.8" y1="358.8" x2="277.4" y2="358.8" stroke="#7a7a7a" stroke-width="1.1"/>
<line x1="240.8" y1="356.6" x2="240.8" y2="361" stroke="#7a7a7a" stroke-width="1.1"/>
<line x1="277.4" y1="356.6" x2="277.4" y2="361" stroke="#7a7a7a" stroke-width="1.1"/>
<text x="259.1" y="355.5" font-size="7.8" fill="#111" text-anchor="middle" stroke="#111" stroke-width="0.05">HuT78</text>
<line x1="290.3" y1="358.8" x2="328.9" y2="358.8" stroke="#7a7a7a" stroke-width="1.1"/>
<line x1="290.3" y1="356.6" x2="290.3" y2="361" stroke="#7a7a7a" stroke-width="1.1"/>
<line x1="328.9" y1="356.6" x2="328.9" y2="361" stroke="#7a7a7a" stroke-width="1.1"/>
<text x="309.6" y="355.5" font-size="7.8" fill="#111" text-anchor="middle" stroke="#111" stroke-width="0.05">OCI-Ly12</text>
<text x="325.4" y="407.7" font-size="7.4" fill="#8a4545" font-weight="bold" textLength="8.1" lengthAdjust="spacingAndGlyphs" stroke="#8a4545" stroke-width="0.05">CT</text>
<text x="255.3" y="342.2" font-size="8.5" fill="#111" text-anchor="middle" font-style="italic" stroke="#111" stroke-width="0.22">VEGFB</text>
<text transform="translate(181 384) rotate(-90)" font-size="9" text-anchor="middle" fill="#111" stroke="#111" stroke-width="0.18" textLength="80" lengthAdjust="spacingAndGlyphs">mRNA levels to&#160;&#160;<tspan font-style="italic">B2M</tspan></text>
<circle cx="312.2" cy="376.9" r="0.6" fill="#111"/>
<text x="313.3" y="380.8" font-size="6.5" fill="#111" font-style="italic" textLength="20.9" lengthAdjust="spacingAndGlyphs" stroke="#111" stroke-width="0.22">P&lt;0.05</text>
<text x="351" y="315.6" font-size="12" fill="#111" font-weight="bold" stroke="#111" stroke-width="0.22">E</text>
<text x="420.3" y="313.6" font-size="8.3" fill="#111" font-weight="bold" textLength="50.5" lengthAdjust="spacingAndGlyphs" stroke="#111" stroke-width="0.22">HMEC1 cells</text>
<rect x="379.7" y="316" width="135.7" height="80.5" fill="#050505"/>
<rect x="379.7" y="399.3" width="135.7" height="81.1" fill="#050505"/>
<circle cx="424" cy="328.84" r="0.79" fill="rgb(129,129,129)"/>
<circle cx="490.5" cy="324.39" r="0.76" fill="rgb(184,184,184)"/>
<circle cx="409.41" cy="323.75" r="0.69" fill="rgb(150,150,150)"/>
<circle cx="392.83" cy="350.32" r="0.87" fill="rgb(135,135,135)"/>
<circle cx="507.37" cy="366.5" r="0.76" fill="rgb(127,127,127)"/>
<circle cx="457.86" cy="348.14" r="0.94" fill="rgb(125,125,125)"/>
<circle cx="455.13" cy="327.45" r="0.69" fill="rgb(189,189,189)"/>
<circle cx="396.45" cy="341.22" r="0.87" fill="rgb(143,143,143)"/>
<circle cx="394.48" cy="361.84" r="0.58" fill="rgb(132,132,132)"/>
<circle cx="453.93" cy="321.93" r="0.53" fill="rgb(146,146,146)"/>
<circle cx="447.07" cy="358.74" r="0.85" fill="rgb(179,179,179)"/>
<circle cx="458.99" cy="352.57" r="0.63" fill="rgb(221,221,221)"/>
<circle cx="404.73" cy="378.22" r="0.54" fill="rgb(158,158,158)"/>
<circle cx="450.92" cy="385.7" r="0.83" fill="rgb(156,156,156)"/>
<circle cx="462.12" cy="322.75" r="0.73" fill="rgb(141,141,141)"/>
<circle cx="481.93" cy="328.93" r="0.72" fill="rgb(125,125,125)"/>
<circle cx="509.32" cy="323.09" r="0.75" fill="rgb(221,221,221)"/>
<circle cx="497.75" cy="341.63" r="0.81" fill="rgb(196,196,196)"/>
<circle cx="447.11" cy="379.56" r="0.53" fill="rgb(131,131,131)"/>
<circle cx="507" cy="354.22" r="0.8" fill="rgb(127,127,127)"/>
<circle cx="478.46" cy="341.3" r="0.76" fill="rgb(207,207,207)"/>
<circle cx="490.59" cy="339.34" r="0.67" fill="rgb(205,205,205)"/>
<circle cx="427.09" cy="390.84" r="0.66" fill="rgb(198,198,198)"/>
<circle cx="396.36" cy="321.63" r="0.85" fill="rgb(136,136,136)"/>
<circle cx="479.42" cy="348.23" r="0.91" fill="rgb(183,183,183)"/>
<circle cx="391.47" cy="352.26" r="0.75" fill="rgb(233,233,233)"/>
<circle cx="399.01" cy="350.8" r="0.75" fill="rgb(210,210,210)"/>
<circle cx="436.23" cy="345.16" r="0.9" fill="rgb(149,149,149)"/>
<circle cx="400.88" cy="330.83" r="0.6" fill="rgb(149,149,149)"/>
<circle cx="382.31" cy="382.24" r="0.58" fill="rgb(156,156,156)"/>
<circle cx="381.25" cy="349.89" r="0.67" fill="rgb(192,192,192)"/>
<circle cx="423.3" cy="326.85" r="0.89" fill="rgb(199,199,199)"/>
<circle cx="468.27" cy="375.07" r="0.71" fill="rgb(231,231,231)"/>
<circle cx="484.98" cy="385.65" r="0.86" fill="rgb(170,170,170)"/>
<circle cx="433.92" cy="347.94" r="0.72" fill="rgb(171,171,171)"/>
<circle cx="389.02" cy="322.29" r="0.59" fill="rgb(140,140,140)"/>
<circle cx="395.4" cy="364.16" r="0.55" fill="rgb(192,192,192)"/>
<circle cx="400.92" cy="324.96" r="0.66" fill="rgb(123,123,123)"/>
<circle cx="390.1" cy="333.32" r="0.67" fill="rgb(201,201,201)"/>
<circle cx="414.43" cy="344.27" r="0.66" fill="rgb(135,135,135)"/>
<circle cx="396.12" cy="355.31" r="0.94" fill="rgb(181,181,181)"/>
<circle cx="445.39" cy="323.74" r="0.55" fill="rgb(163,163,163)"/>
<circle cx="479.68" cy="354.57" r="0.81" fill="rgb(186,186,186)"/>
<circle cx="383.79" cy="391.65" r="0.74" fill="rgb(138,138,138)"/>
<circle cx="472.96" cy="388.76" r="0.84" fill="rgb(158,158,158)"/>
<circle cx="511.53" cy="384.77" r="0.81" fill="rgb(153,153,153)"/>
<circle cx="450.01" cy="388.3" r="0.66" fill="rgb(148,148,148)"/>
<circle cx="451.91" cy="378.16" r="0.65" fill="rgb(148,148,148)"/>
<circle cx="462.69" cy="378.89" r="0.84" fill="rgb(144,144,144)"/>
<circle cx="488.47" cy="381.24" r="0.83" fill="rgb(149,149,149)"/>
<circle cx="407.43" cy="355.68" r="0.83" fill="rgb(123,123,123)"/>
<circle cx="486.34" cy="354.07" r="0.59" fill="rgb(197,197,197)"/>
<circle cx="508.59" cy="352.11" r="0.92" fill="rgb(164,164,164)"/>
<circle cx="508.38" cy="345.62" r="0.6" fill="rgb(149,149,149)"/>
<circle cx="443.55" cy="343.51" r="0.72" fill="rgb(235,235,235)"/>
<circle cx="462.29" cy="317.15" r="0.91" fill="rgb(164,164,164)"/>
<circle cx="487.61" cy="323.66" r="0.8" fill="rgb(169,169,169)"/>
<circle cx="485.29" cy="375.89" r="0.72" fill="rgb(142,142,142)"/>
<circle cx="438.72" cy="366.91" r="0.54" fill="rgb(212,212,212)"/>
<circle cx="433.62" cy="348.51" r="0.93" fill="rgb(212,212,212)"/>
<circle cx="401.94" cy="394.96" r="0.51" fill="rgb(195,195,195)"/>
<circle cx="501.68" cy="380.31" r="0.57" fill="rgb(225,225,225)"/>
<circle cx="460.37" cy="354.24" r="0.92" fill="rgb(139,139,139)"/>
<circle cx="454.06" cy="327.28" r="0.51" fill="rgb(212,212,212)"/>
<circle cx="467.56" cy="358.34" r="0.92" fill="rgb(175,175,175)"/>
<circle cx="512.6" cy="332.29" r="0.89" fill="rgb(123,123,123)"/>
<circle cx="414.37" cy="340" r="0.61" fill="rgb(195,195,195)"/>
<circle cx="424.28" cy="359.73" r="0.88" fill="rgb(127,127,127)"/>
<circle cx="502.37" cy="344.77" r="0.71" fill="rgb(194,194,194)"/>
<circle cx="489.67" cy="357.57" r="0.87" fill="rgb(232,232,232)"/>
<circle cx="447.77" cy="358.75" r="0.74" fill="rgb(122,122,122)"/>
<circle cx="497.39" cy="377.96" r="0.77" fill="rgb(219,219,219)"/>
<circle cx="487.55" cy="330.53" r="0.71" fill="rgb(212,212,212)"/>
<circle cx="396.79" cy="321.85" r="0.81" fill="rgb(187,187,187)"/>
<circle cx="454.96" cy="378.57" r="0.55" fill="rgb(191,191,191)"/>
<circle cx="388.3" cy="332.02" r="0.52" fill="rgb(132,132,132)"/>
<circle cx="448.58" cy="361.1" r="0.84" fill="rgb(128,128,128)"/>
<circle cx="439.96" cy="365.08" r="0.73" fill="rgb(185,185,185)"/>
<circle cx="407.36" cy="338.76" r="0.73" fill="rgb(223,223,223)"/>
<circle cx="444.61" cy="390.91" r="0.81" fill="rgb(232,232,232)"/>
<circle cx="497.82" cy="389.83" r="0.92" fill="rgb(234,234,234)"/>
<circle cx="506.81" cy="382.94" r="0.56" fill="rgb(135,135,135)"/>
<circle cx="433.16" cy="341.8" r="0.8" fill="rgb(174,174,174)"/>
<circle cx="390.48" cy="369.55" r="0.85" fill="rgb(234,234,234)"/>
<circle cx="484.58" cy="390.75" r="0.79" fill="rgb(166,166,166)"/>
<circle cx="399.82" cy="386.3" r="0.94" fill="rgb(148,148,148)"/>
<circle cx="480.53" cy="324.39" r="0.9" fill="rgb(140,140,140)"/>
<circle cx="513.05" cy="382.35" r="0.57" fill="rgb(175,175,175)"/>
<circle cx="513.61" cy="348.7" r="0.69" fill="rgb(165,165,165)"/>
<circle cx="423.29" cy="373.69" r="0.51" fill="rgb(190,190,190)"/>
<circle cx="442.02" cy="372.2" r="0.67" fill="rgb(186,186,186)"/>
<circle cx="464.12" cy="357.21" r="0.53" fill="rgb(220,220,220)"/>
<circle cx="411.26" cy="385.8" r="0.54" fill="rgb(154,154,154)"/>
<circle cx="385.99" cy="378.15" r="0.62" fill="rgb(136,136,136)"/>
<circle cx="490.3" cy="383.69" r="0.8" fill="rgb(153,153,153)"/>
<circle cx="434.98" cy="359.12" r="0.73" fill="rgb(183,183,183)"/>
<circle cx="474.35" cy="324.02" r="0.53" fill="rgb(208,208,208)"/>
<circle cx="405.21" cy="387.28" r="0.62" fill="rgb(122,122,122)"/>
<circle cx="465.52" cy="379.93" r="0.54" fill="rgb(229,229,229)"/>
<circle cx="410.44" cy="337.76" r="0.55" fill="rgb(121,121,121)"/>
<circle cx="426.04" cy="360.42" r="0.92" fill="rgb(154,154,154)"/>
<circle cx="463.82" cy="320.39" r="0.82" fill="rgb(134,134,134)"/>
<circle cx="510.28" cy="337.56" r="0.58" fill="rgb(159,159,159)"/>
<circle cx="464.75" cy="358.69" r="0.59" fill="rgb(177,177,177)"/>
<circle cx="447.56" cy="330.97" r="0.66" fill="rgb(122,122,122)"/>
<circle cx="513.66" cy="319.9" r="0.51" fill="rgb(184,184,184)"/>
<circle cx="454.38" cy="331.87" r="0.71" fill="rgb(177,177,177)"/>
<circle cx="394.91" cy="381.29" r="0.69" fill="rgb(183,183,183)"/>
<circle cx="453.69" cy="386.76" r="0.94" fill="rgb(159,159,159)"/>
<circle cx="472.65" cy="394.12" r="0.65" fill="rgb(226,226,226)"/>
<circle cx="498.61" cy="457.95" r="0.56" fill="rgb(164,164,164)"/>
<circle cx="511.98" cy="466.51" r="0.51" fill="rgb(200,200,200)"/>
<circle cx="479.76" cy="420.52" r="0.57" fill="rgb(130,130,130)"/>
<circle cx="469.64" cy="430.43" r="0.73" fill="rgb(156,156,156)"/>
<circle cx="460.76" cy="455.09" r="0.52" fill="rgb(143,143,143)"/>
<circle cx="401.76" cy="435.56" r="0.62" fill="rgb(162,162,162)"/>
<circle cx="510.74" cy="443.57" r="0.61" fill="rgb(232,232,232)"/>
<circle cx="422.09" cy="428.51" r="0.5" fill="rgb(168,168,168)"/>
<circle cx="391.92" cy="422.36" r="0.8" fill="rgb(151,151,151)"/>
<circle cx="448.18" cy="400.69" r="0.62" fill="rgb(131,131,131)"/>
<circle cx="399.93" cy="446.72" r="0.68" fill="rgb(158,158,158)"/>
<circle cx="421.38" cy="418.72" r="0.76" fill="rgb(187,187,187)"/>
<circle cx="494.78" cy="412.58" r="0.9" fill="rgb(220,220,220)"/>
<circle cx="498.23" cy="431.11" r="0.65" fill="rgb(183,183,183)"/>
<circle cx="400.68" cy="457.58" r="0.79" fill="rgb(125,125,125)"/>
<circle cx="490.98" cy="456.86" r="0.73" fill="rgb(174,174,174)"/>
<circle cx="478.82" cy="464.55" r="0.56" fill="rgb(187,187,187)"/>
<circle cx="481.36" cy="445.27" r="0.87" fill="rgb(122,122,122)"/>
<circle cx="491.19" cy="446.5" r="0.9" fill="rgb(207,207,207)"/>
<circle cx="508.53" cy="451.15" r="0.54" fill="rgb(125,125,125)"/>
<circle cx="398.49" cy="428.83" r="0.55" fill="rgb(226,226,226)"/>
<circle cx="441.05" cy="404.32" r="0.51" fill="rgb(188,188,188)"/>
<circle cx="471.7" cy="439" r="0.5" fill="rgb(222,222,222)"/>
<circle cx="390.07" cy="474.06" r="0.9" fill="rgb(131,131,131)"/>
<circle cx="468.85" cy="405.52" r="0.83" fill="rgb(152,152,152)"/>
<circle cx="488.89" cy="467.23" r="0.61" fill="rgb(216,216,216)"/>
<circle cx="408.14" cy="458.82" r="0.94" fill="rgb(183,183,183)"/>
<circle cx="493.75" cy="406.37" r="0.91" fill="rgb(156,156,156)"/>
<circle cx="483.24" cy="449.1" r="0.79" fill="rgb(129,129,129)"/>
<circle cx="460.88" cy="426.54" r="0.79" fill="rgb(208,208,208)"/>
<circle cx="421.4" cy="445.21" r="0.51" fill="rgb(127,127,127)"/>
<circle cx="445.65" cy="477.23" r="0.54" fill="rgb(147,147,147)"/>
<circle cx="471.04" cy="423.31" r="0.73" fill="rgb(179,179,179)"/>
<circle cx="442.99" cy="460.98" r="0.95" fill="rgb(190,190,190)"/>
<circle cx="407.34" cy="477.67" r="0.92" fill="rgb(122,122,122)"/>
<circle cx="419.42" cy="406.35" r="0.73" fill="rgb(177,177,177)"/>
<circle cx="513.59" cy="430.9" r="0.91" fill="rgb(146,146,146)"/>
<circle cx="390.68" cy="407.44" r="0.84" fill="rgb(153,153,153)"/>
<circle cx="508.08" cy="410.79" r="0.87" fill="rgb(185,185,185)"/>
<circle cx="418.08" cy="409.21" r="0.66" fill="rgb(183,183,183)"/>
<circle cx="500.72" cy="438.75" r="0.51" fill="rgb(120,120,120)"/>
<circle cx="507.71" cy="454.21" r="0.68" fill="rgb(213,213,213)"/>
<circle cx="399.51" cy="427.51" r="0.64" fill="rgb(227,227,227)"/>
<circle cx="425" cy="425.97" r="0.65" fill="rgb(170,170,170)"/>
<circle cx="396.75" cy="473.58" r="0.82" fill="rgb(235,235,235)"/>
<circle cx="479.63" cy="420.33" r="0.53" fill="rgb(169,169,169)"/>
<circle cx="514.24" cy="446.9" r="0.66" fill="rgb(174,174,174)"/>
<circle cx="481.73" cy="467.87" r="0.63" fill="rgb(126,126,126)"/>
<circle cx="492.3" cy="422.89" r="0.92" fill="rgb(151,151,151)"/>
<circle cx="510.53" cy="434.81" r="0.64" fill="rgb(218,218,218)"/>
<circle cx="430.62" cy="475.93" r="0.9" fill="rgb(223,223,223)"/>
<circle cx="482.53" cy="431.94" r="0.89" fill="rgb(190,190,190)"/>
<circle cx="454.13" cy="457.22" r="0.52" fill="rgb(213,213,213)"/>
<circle cx="435.64" cy="448.94" r="0.56" fill="rgb(231,231,231)"/>
<circle cx="418.97" cy="404.17" r="0.92" fill="rgb(136,136,136)"/>
<circle cx="403.53" cy="433.12" r="0.63" fill="rgb(152,152,152)"/>
<circle cx="479.51" cy="477.53" r="0.62" fill="rgb(203,203,203)"/>
<circle cx="412.61" cy="438.52" r="0.8" fill="rgb(135,135,135)"/>
<circle cx="403.07" cy="413.09" r="0.59" fill="rgb(235,235,235)"/>
<circle cx="489.24" cy="443.84" r="0.7" fill="rgb(162,162,162)"/>
<circle cx="513.93" cy="435.89" r="0.56" fill="rgb(144,144,144)"/>
<circle cx="413.33" cy="414.12" r="0.75" fill="rgb(160,160,160)"/>
<circle cx="412.67" cy="420.74" r="0.76" fill="rgb(233,233,233)"/>
<circle cx="383.38" cy="469.17" r="0.67" fill="rgb(215,215,215)"/>
<circle cx="450.78" cy="430.11" r="0.65" fill="rgb(127,127,127)"/>
<circle cx="447.3" cy="445.73" r="0.66" fill="rgb(207,207,207)"/>
<circle cx="448" cy="450.1" r="0.89" fill="rgb(147,147,147)"/>
<circle cx="393.08" cy="471.24" r="0.67" fill="rgb(202,202,202)"/>
<circle cx="440.31" cy="475.76" r="0.88" fill="rgb(231,231,231)"/>
<circle cx="510.13" cy="410.37" r="0.69" fill="rgb(217,217,217)"/>
<circle cx="500.45" cy="437.74" r="0.76" fill="rgb(120,120,120)"/>
<circle cx="390.48" cy="473.88" r="0.92" fill="rgb(187,187,187)"/>
<circle cx="495.08" cy="477.2" r="0.61" fill="rgb(133,133,133)"/>
<circle cx="410.62" cy="412.33" r="0.94" fill="rgb(133,133,133)"/>
<circle cx="506.58" cy="457.39" r="0.79" fill="rgb(217,217,217)"/>
<circle cx="500.35" cy="407.02" r="0.85" fill="rgb(120,120,120)"/>
<circle cx="485.29" cy="418.7" r="0.91" fill="rgb(202,202,202)"/>
<circle cx="476.3" cy="476.43" r="0.78" fill="rgb(187,187,187)"/>
<circle cx="465.77" cy="455.56" r="0.55" fill="rgb(129,129,129)"/>
<circle cx="420.86" cy="474.93" r="0.59" fill="rgb(153,153,153)"/>
<circle cx="410.59" cy="447.84" r="0.5" fill="rgb(158,158,158)"/>
<circle cx="513.92" cy="422.34" r="0.64" fill="rgb(227,227,227)"/>
<circle cx="498.86" cy="437.9" r="0.61" fill="rgb(151,151,151)"/>
<circle cx="384.61" cy="432.87" r="0.79" fill="rgb(127,127,127)"/>
<circle cx="383.61" cy="439.72" r="0.8" fill="rgb(173,173,173)"/>
<circle cx="391.54" cy="418.32" r="0.69" fill="rgb(167,167,167)"/>
<circle cx="411.02" cy="403" r="0.65" fill="rgb(173,173,173)"/>
<circle cx="429.14" cy="431.65" r="0.5" fill="rgb(157,157,157)"/>
<circle cx="479.52" cy="440.24" r="0.59" fill="rgb(145,145,145)"/>
<circle cx="422.38" cy="465.16" r="0.6" fill="rgb(148,148,148)"/>
<circle cx="416.13" cy="470.65" r="0.55" fill="rgb(199,199,199)"/>
<circle cx="446.98" cy="415.12" r="0.6" fill="rgb(173,173,173)"/>
<circle cx="502.42" cy="404.76" r="0.77" fill="rgb(170,170,170)"/>
<circle cx="387.97" cy="402.17" r="0.77" fill="rgb(173,173,173)"/>
<circle cx="387.63" cy="405.06" r="0.68" fill="rgb(234,234,234)"/>
<circle cx="475.9" cy="425.15" r="0.55" fill="rgb(130,130,130)"/>
<circle cx="505.25" cy="426.34" r="0.58" fill="rgb(187,187,187)"/>
<circle cx="480.48" cy="402.82" r="0.8" fill="rgb(168,168,168)"/>
<circle cx="492.89" cy="478.21" r="0.7" fill="rgb(133,133,133)"/>
<circle cx="381.08" cy="422.43" r="0.66" fill="rgb(233,233,233)"/>
<circle cx="397.24" cy="476.57" r="0.59" fill="rgb(165,165,165)"/>
<circle cx="483.48" cy="424.72" r="0.86" fill="rgb(131,131,131)"/>
<circle cx="387.29" cy="437.75" r="0.67" fill="rgb(177,177,177)"/>
<circle cx="406.51" cy="429.11" r="0.9" fill="rgb(123,123,123)"/>
<circle cx="465.15" cy="419.92" r="0.78" fill="rgb(171,171,171)"/>
<circle cx="386.13" cy="403.06" r="0.53" fill="rgb(127,127,127)"/>
<circle cx="415.06" cy="459.41" r="0.9" fill="rgb(163,163,163)"/>
<circle cx="429.23" cy="426.8" r="0.93" fill="rgb(125,125,125)"/>
<circle cx="415.75" cy="456.99" r="0.64" fill="rgb(155,155,155)"/>
<circle cx="420.46" cy="457.38" r="0.77" fill="rgb(223,223,223)"/>
<circle cx="465.46" cy="474.91" r="0.51" fill="rgb(149,149,149)"/>
<circle cx="395.04" cy="456.9" r="0.71" fill="rgb(219,219,219)"/>
<circle cx="432.38" cy="420.16" r="0.69" fill="rgb(183,183,183)"/>
<circle cx="398.44" cy="439.58" r="0.5" fill="rgb(214,214,214)"/>
<circle cx="421.25" cy="455.05" r="0.57" fill="rgb(150,150,150)"/>
<circle cx="424.53" cy="425.58" r="0.66" fill="rgb(220,220,220)"/>
<circle cx="460.35" cy="440.79" r="0.68" fill="rgb(140,140,140)"/>
<circle cx="413.77" cy="405.42" r="0.52" fill="rgb(190,190,190)"/>
<circle cx="453.52" cy="413.01" r="0.69" fill="rgb(133,133,133)"/>
<circle cx="512.77" cy="421.25" r="0.54" fill="rgb(132,132,132)"/>
<circle cx="437" cy="478.48" r="0.94" fill="rgb(142,142,142)"/>
<circle cx="412.01" cy="433.27" r="0.78" fill="rgb(206,206,206)"/>
<circle cx="412.11" cy="442.9" r="0.85" fill="rgb(217,217,217)"/>
<circle cx="396.9" cy="466.81" r="0.63" fill="rgb(192,192,192)"/>
<circle cx="416.49" cy="420.4" r="0.62" fill="rgb(176,176,176)"/>
<circle cx="413.78" cy="419.71" r="0.57" fill="rgb(233,233,233)"/>
<circle cx="502.04" cy="415.19" r="0.53" fill="rgb(152,152,152)"/>
<circle cx="513.39" cy="440.43" r="0.6" fill="rgb(223,223,223)"/>
<circle cx="394.14" cy="437" r="0.52" fill="rgb(120,120,120)"/>
<circle cx="444.18" cy="465.09" r="0.88" fill="rgb(167,167,167)"/>
<circle cx="386.1" cy="423.53" r="0.55" fill="rgb(144,144,144)"/>
<circle cx="460.99" cy="465.79" r="0.59" fill="rgb(129,129,129)"/>
<circle cx="430.47" cy="468.81" r="0.7" fill="rgb(153,153,153)"/>
<circle cx="484.32" cy="452.88" r="0.5" fill="rgb(201,201,201)"/>
<circle cx="460.4" cy="449.34" r="0.6" fill="rgb(167,167,167)"/>
<circle cx="426.16" cy="403.79" r="0.95" fill="rgb(124,124,124)"/>
<circle cx="460.84" cy="451.84" r="0.59" fill="rgb(121,121,121)"/>
<circle cx="490.18" cy="432.65" r="0.67" fill="rgb(199,199,199)"/>
<circle cx="422.44" cy="416.39" r="0.86" fill="rgb(190,190,190)"/>
<circle cx="445.34" cy="432.59" r="0.86" fill="rgb(204,204,204)"/>
<circle cx="454.25" cy="450.86" r="0.54" fill="rgb(140,140,140)"/>
<circle cx="433.88" cy="421.75" r="0.94" fill="rgb(205,205,205)"/>
<circle cx="421.83" cy="475.7" r="0.64" fill="rgb(192,192,192)"/>
<circle cx="498.85" cy="433.05" r="0.51" fill="rgb(218,218,218)"/>
<circle cx="513.95" cy="429.08" r="0.59" fill="rgb(213,213,213)"/>
<circle cx="434.84" cy="474.81" r="0.7" fill="rgb(140,140,140)"/>
<circle cx="437.36" cy="465.19" r="0.68" fill="rgb(233,233,233)"/>
<circle cx="429.46" cy="461.45" r="0.56" fill="rgb(126,126,126)"/>
<circle cx="454.44" cy="450.98" r="0.91" fill="rgb(131,131,131)"/>
<circle cx="457.29" cy="473.64" r="0.83" fill="rgb(141,141,141)"/>
<circle cx="400.21" cy="422.71" r="0.73" fill="rgb(128,128,128)"/>
<circle cx="395.25" cy="439.1" r="0.86" fill="rgb(223,223,223)"/>
<circle cx="407.08" cy="410.32" r="0.92" fill="rgb(181,181,181)"/>
<circle cx="422.75" cy="448.36" r="0.79" fill="rgb(131,131,131)"/>
<circle cx="501.59" cy="449.37" r="0.87" fill="rgb(140,140,140)"/>
<circle cx="466.31" cy="468.06" r="0.78" fill="rgb(198,198,198)"/>
<circle cx="493.86" cy="465.89" r="0.58" fill="rgb(147,147,147)"/>
<circle cx="386.28" cy="474.54" r="0.57" fill="rgb(165,165,165)"/>
<circle cx="397.15" cy="419.84" r="0.83" fill="rgb(234,234,234)"/>
<circle cx="406.45" cy="470.21" r="0.88" fill="rgb(206,206,206)"/>
<circle cx="385.8" cy="466.6" r="0.55" fill="rgb(196,196,196)"/>
<circle cx="441.63" cy="467.46" r="0.85" fill="rgb(203,203,203)"/>
<circle cx="436.86" cy="446.39" r="0.69" fill="rgb(204,204,204)"/>
<circle cx="429.83" cy="440.13" r="0.58" fill="rgb(120,120,120)"/>
<circle cx="463.45" cy="439.02" r="0.61" fill="rgb(217,217,217)"/>
<circle cx="463.4" cy="465.08" r="0.88" fill="rgb(223,223,223)"/>
<circle cx="443.97" cy="408.77" r="0.56" fill="rgb(175,175,175)"/>
<circle cx="429.54" cy="463.76" r="0.73" fill="rgb(204,204,204)"/>
<circle cx="386.15" cy="450.64" r="0.54" fill="rgb(213,213,213)"/>
<circle cx="422.65" cy="457.28" r="0.54" fill="rgb(216,216,216)"/>
<circle cx="448.07" cy="430.19" r="0.93" fill="rgb(137,137,137)"/>
<circle cx="384.16" cy="405.55" r="0.78" fill="rgb(208,208,208)"/>
<circle cx="489.66" cy="415.62" r="0.94" fill="rgb(182,182,182)"/>
<circle cx="419.19" cy="464.45" r="0.86" fill="rgb(207,207,207)"/>
<circle cx="486.11" cy="473.91" r="0.53" fill="rgb(164,164,164)"/>
<circle cx="462.32" cy="420.25" r="0.65" fill="rgb(198,198,198)"/>
<circle cx="417.47" cy="464.82" r="0.56" fill="rgb(184,184,184)"/>
<circle cx="509.63" cy="438.28" r="0.77" fill="rgb(198,198,198)"/>
<circle cx="448.35" cy="425.54" r="0.52" fill="rgb(143,143,143)"/>
<circle cx="434.64" cy="450.65" r="0.63" fill="rgb(161,161,161)"/>
<circle cx="500.42" cy="413.65" r="0.85" fill="rgb(134,134,134)"/>
<circle cx="483.42" cy="404.14" r="0.89" fill="rgb(231,231,231)"/>
<circle cx="441.27" cy="441.55" r="0.81" fill="rgb(234,234,234)"/>
<circle cx="394.69" cy="478.84" r="0.78" fill="rgb(170,170,170)"/>
<circle cx="479.36" cy="429.68" r="0.67" fill="rgb(167,167,167)"/>
<circle cx="457.89" cy="428.8" r="0.84" fill="rgb(176,176,176)"/>
<circle cx="411.46" cy="448.98" r="0.93" fill="rgb(157,157,157)"/>
<circle cx="490.31" cy="420.36" r="0.79" fill="rgb(231,231,231)"/>
<circle cx="459.03" cy="452.8" r="0.64" fill="rgb(120,120,120)"/>
<circle cx="480.59" cy="417.83" r="0.63" fill="rgb(200,200,200)"/>
<circle cx="438.49" cy="440.85" r="0.9" fill="rgb(136,136,136)"/>
<circle cx="446" cy="448.75" r="0.52" fill="rgb(126,126,126)"/>
<circle cx="381.05" cy="428.38" r="0.55" fill="rgb(165,165,165)"/>
<circle cx="452.11" cy="432.99" r="0.64" fill="rgb(137,137,137)"/>
<circle cx="408" cy="449.65" r="0.71" fill="rgb(137,137,137)"/>
<circle cx="382.59" cy="463.7" r="0.82" fill="rgb(177,177,177)"/>
<circle cx="393.51" cy="450.78" r="0.89" fill="rgb(220,220,220)"/>
<circle cx="416.77" cy="464.5" r="0.94" fill="rgb(127,127,127)"/>
<circle cx="466.93" cy="444.78" r="0.66" fill="rgb(202,202,202)"/>
<circle cx="458.04" cy="447.91" r="0.73" fill="rgb(183,183,183)"/>
<circle cx="413.92" cy="471.77" r="0.52" fill="rgb(188,188,188)"/>
<circle cx="384.07" cy="414.99" r="0.57" fill="rgb(219,219,219)"/>
<circle cx="394.73" cy="448.76" r="0.8" fill="rgb(145,145,145)"/>
<circle cx="399.72" cy="416.08" r="0.77" fill="rgb(184,184,184)"/>
<circle cx="467.28" cy="433.15" r="0.78" fill="rgb(185,185,185)"/>
<circle cx="422.06" cy="424.05" r="0.52" fill="rgb(233,233,233)"/>
<circle cx="477.54" cy="438.1" r="0.74" fill="rgb(168,168,168)"/>
<circle cx="493.6" cy="459.24" r="0.71" fill="rgb(214,214,214)"/>
<circle cx="468.34" cy="414.17" r="0.95" fill="rgb(153,153,153)"/>
<circle cx="411.76" cy="403.37" r="0.65" fill="rgb(215,215,215)"/>
<circle cx="504.4" cy="474.88" r="0.62" fill="rgb(126,126,126)"/>
<circle cx="416.26" cy="444.1" r="0.7" fill="rgb(220,220,220)"/>
<circle cx="503.34" cy="477.18" r="0.63" fill="rgb(234,234,234)"/>
<circle cx="409.71" cy="469.91" r="0.51" fill="rgb(153,153,153)"/>
<circle cx="501.66" cy="466.88" r="0.59" fill="rgb(140,140,140)"/>
<circle cx="480.46" cy="426.16" r="0.9" fill="rgb(162,162,162)"/>
<circle cx="461.08" cy="430.31" r="0.88" fill="rgb(208,208,208)"/>
<circle cx="511.95" cy="466.86" r="0.74" fill="rgb(180,180,180)"/>
<circle cx="492.97" cy="455.48" r="0.89" fill="rgb(175,175,175)"/>
<circle cx="508.48" cy="418.8" r="0.9" fill="rgb(221,221,221)"/>
<circle cx="409.04" cy="449.55" r="0.54" fill="rgb(141,141,141)"/>
<circle cx="400.03" cy="402.43" r="0.55" fill="rgb(140,140,140)"/>
<circle cx="426.81" cy="411.52" r="0.51" fill="rgb(125,125,125)"/>
<circle cx="399.2" cy="451.2" r="0.52" fill="rgb(128,128,128)"/>
<circle cx="479.21" cy="405.5" r="0.77" fill="rgb(166,166,166)"/>
<circle cx="407.35" cy="475.81" r="0.74" fill="rgb(205,205,205)"/>
<circle cx="389.52" cy="468.94" r="0.91" fill="rgb(169,169,169)"/>
<circle cx="395.02" cy="416.57" r="0.55" fill="rgb(124,124,124)"/>
<circle cx="507.61" cy="472.37" r="0.84" fill="rgb(131,131,131)"/>
<circle cx="491.01" cy="450.25" r="0.63" fill="rgb(132,132,132)"/>
<line x1="383.7" y1="321.7" x2="396.7" y2="321.7" stroke="#f0f0f0" stroke-width="1.5"/>
<rect x="380" y="384.7" width="43.3" height="11.8" fill="#d6ecee" stroke="#7d8c8c" stroke-width="0.6"/>
<text x="381.3" y="394.8" font-size="9" fill="#222" font-weight="bold" textLength="34.7" lengthAdjust="spacingAndGlyphs" stroke="#222" stroke-width="0.22">206 ± 82</text>
<rect x="380" y="468.4" width="48" height="12" fill="#d6ecee" stroke="#7d8c8c" stroke-width="0.6"/>
<text x="381.6" y="477.9" font-size="9" fill="#222" font-weight="bold" textLength="39.5" lengthAdjust="spacingAndGlyphs" stroke="#222" stroke-width="0.22">481 ± 118</text>
<text transform="translate(366.2 356.4) rotate(-90)" font-size="8.9" text-anchor="middle" fill="#111" stroke="#111" stroke-width="0.22" textLength="30" lengthAdjust="spacingAndGlyphs">CUTLL1</text>
<text transform="translate(376.3 355.8) rotate(-90)" font-size="8.6" text-anchor="middle" fill="#111" stroke="#111" stroke-width="0.22" textLength="60.5" lengthAdjust="spacingAndGlyphs">Control&#160;&#160;medium</text>
<text transform="translate(367.2 439.7) rotate(-90)" font-size="8.8" text-anchor="middle" fill="#111" stroke="#111" stroke-width="0.22" textLength="59" lengthAdjust="spacingAndGlyphs">CUTLL1 TH-AG</text>
<text transform="translate(376.7 438.5) rotate(-90)" font-size="8.6" text-anchor="middle" fill="#111" stroke="#111" stroke-width="0.22" textLength="73" lengthAdjust="spacingAndGlyphs">conditioned medium</text>
<text x="0.1" y="505.7" font-size="12" fill="#111" font-weight="bold" stroke="#111" stroke-width="0.22">F</text>
<line x1="49.6" y1="506.8" x2="49.6" y2="618" stroke="#1c1c1c" stroke-width="1.25"/>
<line x1="46.1" y1="617.5" x2="49.6" y2="617.5" stroke="#222" stroke-width="1"/>
<text x="45.7" y="620.8" font-size="9.2" fill="#222" text-anchor="end" stroke="#222" stroke-width="0.22">0</text>
<line x1="46.1" y1="580.77" x2="49.6" y2="580.77" stroke="#222" stroke-width="1"/>
<text x="45.7" y="584.07" font-size="9.2" fill="#222" text-anchor="end" stroke="#222" stroke-width="0.22">200</text>
<line x1="46.1" y1="544.03" x2="49.6" y2="544.03" stroke="#222" stroke-width="1"/>
<text x="45.7" y="547.33" font-size="9.2" fill="#222" text-anchor="end" stroke="#222" stroke-width="0.22">400</text>
<line x1="46.1" y1="507.3" x2="49.6" y2="507.3" stroke="#222" stroke-width="1"/>
<text x="45.7" y="510.6" font-size="9.2" fill="#222" text-anchor="end" stroke="#222" stroke-width="0.22">600</text>
<line x1="49.6" y1="617.5" x2="258.5" y2="617.5" stroke="#1c1c1c" stroke-width="1.25"/>
<line x1="57.9" y1="587.38" x2="57.9" y2="583.5" stroke="#1a1a1a" stroke-width="1.15"/>
<line x1="55.3" y1="583.5" x2="60.5" y2="583.5" stroke="#1a1a1a" stroke-width="1.15"/>
<rect x="53.1" y="587.88" width="9.6" height="29.62" fill="#ffffff" stroke="#222" stroke-width="1.0"/>
<line x1="72.7" y1="558.73" x2="72.7" y2="554.6" stroke="#1a1a1a" stroke-width="1.15"/>
<line x1="70.1" y1="554.6" x2="75.3" y2="554.6" stroke="#1a1a1a" stroke-width="1.15"/>
<rect x="67.9" y="559.23" width="9.6" height="58.27" fill="#d9d9d9" stroke="#222" stroke-width="1.0"/>
<circle cx="70.7" cy="549.2" r="1.2" fill="#111"/>
<circle cx="74.7" cy="549.2" r="1.2" fill="#111"/>
<line x1="87.7" y1="578.93" x2="87.7" y2="576.5" stroke="#1a1a1a" stroke-width="1.15"/>
<line x1="85.1" y1="576.5" x2="90.3" y2="576.5" stroke="#1a1a1a" stroke-width="1.15"/>
<rect x="82.9" y="579.43" width="9.6" height="38.07" fill="#8a8a8a" stroke="#222" stroke-width="1.0"/>
<line x1="102.3" y1="581.68" x2="102.3" y2="580" stroke="#1a1a1a" stroke-width="1.15"/>
<line x1="99.7" y1="580" x2="104.9" y2="580" stroke="#1a1a1a" stroke-width="1.15"/>
<rect x="97.5" y="582.18" width="9.6" height="35.32" fill="#0a0a0a" stroke="#222" stroke-width="1.0"/>
<text x="102.3" y="572.9" font-size="8" fill="#111" text-anchor="middle" font-weight="bold" font-style="italic" stroke="#111" stroke-width="0.22">#</text>
<line x1="132.3" y1="573.97" x2="132.3" y2="571.5" stroke="#1a1a1a" stroke-width="1.15"/>
<line x1="129.7" y1="571.5" x2="134.9" y2="571.5" stroke="#1a1a1a" stroke-width="1.15"/>
<rect x="127.5" y="574.47" width="9.6" height="43.03" fill="#ffffff" stroke="#222" stroke-width="1.0"/>
<line x1="147.3" y1="544.03" x2="147.3" y2="533.7" stroke="#1a1a1a" stroke-width="1.15"/>
<line x1="144.7" y1="533.7" x2="149.9" y2="533.7" stroke="#1a1a1a" stroke-width="1.15"/>
<rect x="142.5" y="544.53" width="9.6" height="72.97" fill="#d9d9d9" stroke="#222" stroke-width="1.0"/>
<circle cx="147.3" cy="528.5" r="1.2" fill="#111"/>
<line x1="162.1" y1="587.75" x2="162.1" y2="583" stroke="#1a1a1a" stroke-width="1.15"/>
<line x1="159.5" y1="583" x2="164.7" y2="583" stroke="#1a1a1a" stroke-width="1.15"/>
<rect x="157.3" y="588.25" width="9.6" height="29.25" fill="#8a8a8a" stroke="#222" stroke-width="1.0"/>
<line x1="177" y1="567.91" x2="177" y2="562.6" stroke="#1a1a1a" stroke-width="1.15"/>
<line x1="174.4" y1="562.6" x2="179.6" y2="562.6" stroke="#1a1a1a" stroke-width="1.15"/>
<rect x="172.2" y="568.41" width="9.6" height="49.09" fill="#0a0a0a" stroke="#222" stroke-width="1.0"/>
<text x="177" y="555.7" font-size="8" fill="#111" text-anchor="middle" font-weight="bold" font-style="italic" stroke="#111" stroke-width="0.22">#</text>
<line x1="206.7" y1="583.89" x2="206.7" y2="581" stroke="#1a1a1a" stroke-width="1.15"/>
<line x1="204.1" y1="581" x2="209.3" y2="581" stroke="#1a1a1a" stroke-width="1.15"/>
<rect x="201.9" y="584.39" width="9.6" height="33.11" fill="#ffffff" stroke="#222" stroke-width="1.0"/>
<line x1="221.3" y1="567.91" x2="221.3" y2="563.2" stroke="#1a1a1a" stroke-width="1.15"/>
<line x1="218.7" y1="563.2" x2="223.9" y2="563.2" stroke="#1a1a1a" stroke-width="1.15"/>
<rect x="216.5" y="568.41" width="9.6" height="49.09" fill="#d9d9d9" stroke="#222" stroke-width="1.0"/>
<circle cx="221.3" cy="558.3" r="1.2" fill="#111"/>
<line x1="236.1" y1="593.07" x2="236.1" y2="590" stroke="#1a1a1a" stroke-width="1.15"/>
<line x1="233.5" y1="590" x2="238.7" y2="590" stroke="#1a1a1a" stroke-width="1.15"/>
<rect x="231.3" y="593.57" width="9.6" height="23.93" fill="#8a8a8a" stroke="#222" stroke-width="1.0"/>
<line x1="250.8" y1="581.68" x2="250.8" y2="576" stroke="#1a1a1a" stroke-width="1.15"/>
<line x1="248.2" y1="576" x2="253.4" y2="576" stroke="#1a1a1a" stroke-width="1.15"/>
<rect x="246" y="582.18" width="9.6" height="35.32" fill="#0a0a0a" stroke="#222" stroke-width="1.0"/>
<text x="250.8" y="573.3" font-size="8" fill="#111" text-anchor="middle" font-weight="bold" font-style="italic" stroke="#111" stroke-width="0.22">#</text>
<line x1="53" y1="512.5" x2="113" y2="512.5" stroke="#444" stroke-width="1.1"/>
<line x1="53" y1="510.3" x2="53" y2="514.7" stroke="#444" stroke-width="1.1"/>
<line x1="113" y1="510.3" x2="113" y2="514.7" stroke="#444" stroke-width="1.1"/>
<text x="83" y="504.3" font-size="9.1" fill="#111" text-anchor="middle" stroke="#111" stroke-width="0.12">CUTLL1</text>
<line x1="121.5" y1="512.5" x2="186.8" y2="512.5" stroke="#444" stroke-width="1.1"/>
<line x1="121.5" y1="510.3" x2="121.5" y2="514.7" stroke="#444" stroke-width="1.1"/>
<line x1="186.8" y1="510.3" x2="186.8" y2="514.7" stroke="#444" stroke-width="1.1"/>
<text x="154.15" y="504.3" font-size="9.1" fill="#111" text-anchor="middle" stroke="#111" stroke-width="0.12">HuT 78</text>
<line x1="194.3" y1="512.5" x2="260" y2="512.5" stroke="#444" stroke-width="1.1"/>
<line x1="194.3" y1="510.3" x2="194.3" y2="514.7" stroke="#444" stroke-width="1.1"/>
<line x1="260" y1="510.3" x2="260" y2="514.7" stroke="#444" stroke-width="1.1"/>
<text x="227.15" y="504.3" font-size="9.1" fill="#111" text-anchor="middle" stroke="#111" stroke-width="0.12">OCI-Ly12</text>
<text x="200.4" y="525.8" font-size="8" fill="#111" text-anchor="middle" font-weight="bold" stroke="#111" stroke-width="0.22">#</text>
<text x="204.2" y="525.8" font-size="8" fill="#111" font-style="italic" textLength="57.4" lengthAdjust="spacingAndGlyphs" stroke="#111" stroke-width="0.22">P&lt;0.05 vs si-CT</text>
<circle cx="199.7" cy="529.5" r="0.8" fill="#111"/>
<text x="203.1" y="533.8" font-size="8" fill="#111" font-style="italic" textLength="24.9" lengthAdjust="spacingAndGlyphs" stroke="#111" stroke-width="0.22">P&lt;0.05</text>
<circle cx="203.3" cy="539" r="0.8" fill="#111"/>
<circle cx="206.4" cy="539" r="0.8" fill="#111"/>
<text x="209.5" y="543.9" font-size="8" fill="#111" font-style="italic" textLength="48.8" lengthAdjust="spacingAndGlyphs" stroke="#111" stroke-width="0.22">P&lt;0.01 vs CT</text>
<text transform="translate(22.4 559.7) rotate(-90)" font-size="9.6" text-anchor="middle" fill="#111" stroke="#111" stroke-width="0.18" textLength="102.5" lengthAdjust="spacingAndGlyphs">HMEC-1 migration (cells)</text>
<text x="50" y="633.8" font-size="9.5" fill="#111" text-anchor="end" stroke="#111" stroke-width="0.22">TH-AG</text>
<text x="50" y="652.8" font-size="9.5" fill="#111" text-anchor="end" stroke="#111" stroke-width="0.22">Anti-VEGF</text>
<text x="57.9" y="633.3" font-size="9" fill="#111" text-anchor="middle" stroke="#111" stroke-width="0.22">-</text>
<text x="57.9" y="652.8" font-size="9" fill="#111" text-anchor="middle" stroke="#111" stroke-width="0.22">-</text>
<text x="72.7" y="633.3" font-size="9" fill="#111" text-anchor="middle" stroke="#111" stroke-width="0.22">+</text>
<text x="72.7" y="652.8" font-size="9" fill="#111" text-anchor="middle" stroke="#111" stroke-width="0.22">-</text>
<text x="87.7" y="633.3" font-size="9" fill="#111" text-anchor="middle" stroke="#111" stroke-width="0.22">-</text>
<text x="87.7" y="652.8" font-size="9" fill="#111" text-anchor="middle" stroke="#111" stroke-width="0.22">+</text>
<text x="102.3" y="633.3" font-size="9" fill="#111" text-anchor="middle" stroke="#111" stroke-width="0.22">+</text>
<text x="102.3" y="652.8" font-size="9" fill="#111" text-anchor="middle" stroke="#111" stroke-width="0.22">+</text>
<text x="132.3" y="633.3" font-size="9" fill="#111" text-anchor="middle" stroke="#111" stroke-width="0.22">-</text>
<text x="132.3" y="652.8" font-size="9" fill="#111" text-anchor="middle" stroke="#111" stroke-width="0.22">-</text>
<text x="147.3" y="633.3" font-size="9" fill="#111" text-anchor="middle" stroke="#111" stroke-width="0.22">+</text>
<text x="147.3" y="652.8" font-size="9" fill="#111" text-anchor="middle" stroke="#111" stroke-width="0.22">-</text>
<text x="162.1" y="633.3" font-size="9" fill="#111" text-anchor="middle" stroke="#111" stroke-width="0.22">-</text>
<text x="162.1" y="652.8" font-size="9" fill="#111" text-anchor="middle" stroke="#111" stroke-width="0.22">+</text>
<text x="177" y="633.3" font-size="9" fill="#111" text-anchor="middle" stroke="#111" stroke-width="0.22">+</text>
<text x="177" y="652.8" font-size="9" fill="#111" text-anchor="middle" stroke="#111" stroke-width="0.22">+</text>
<text x="206.7" y="633.3" font-size="9" fill="#111" text-anchor="middle" stroke="#111" stroke-width="0.22">-</text>
<text x="206.7" y="652.8" font-size="9" fill="#111" text-anchor="middle" stroke="#111" stroke-width="0.22">-</text>
<text x="221.3" y="633.3" font-size="9" fill="#111" text-anchor="middle" stroke="#111" stroke-width="0.22">+</text>
<text x="221.3" y="652.8" font-size="9" fill="#111" text-anchor="middle" stroke="#111" stroke-width="0.22">-</text>
<text x="236.1" y="633.3" font-size="9" fill="#111" text-anchor="middle" stroke="#111" stroke-width="0.22">-</text>
<text x="236.1" y="652.8" font-size="9" fill="#111" text-anchor="middle" stroke="#111" stroke-width="0.22">+</text>
<text x="250.8" y="633.3" font-size="9" fill="#111" text-anchor="middle" stroke="#111" stroke-width="0.22">+</text>
<text x="250.8" y="652.8" font-size="9" fill="#111" text-anchor="middle" stroke="#111" stroke-width="0.22">+</text>
<text x="306.6" y="505.6" font-size="12" fill="#111" font-weight="bold" stroke="#111" stroke-width="0.22">G</text>
<line x1="347" y1="531.2" x2="347" y2="636.9" stroke="#1c1c1c" stroke-width="1.25"/>
<line x1="343.5" y1="636.4" x2="347" y2="636.4" stroke="#222" stroke-width="1"/>
<text x="342.8" y="639.5" font-size="8.4" fill="#222" text-anchor="end" stroke="#222" stroke-width="0.22">0</text>
<line x1="343.5" y1="610.23" x2="347" y2="610.23" stroke="#222" stroke-width="1"/>
<text x="342.8" y="613.33" font-size="8.4" fill="#222" text-anchor="end" stroke="#222" stroke-width="0.22">200</text>
<line x1="343.5" y1="584.05" x2="347" y2="584.05" stroke="#222" stroke-width="1"/>
<text x="342.8" y="587.15" font-size="8.4" fill="#222" text-anchor="end" stroke="#222" stroke-width="0.22">400</text>
<line x1="343.5" y1="557.88" x2="347" y2="557.88" stroke="#222" stroke-width="1"/>
<text x="342.8" y="560.98" font-size="8.4" fill="#222" text-anchor="end" stroke="#222" stroke-width="0.22">600</text>
<line x1="343.5" y1="531.7" x2="347" y2="531.7" stroke="#222" stroke-width="1"/>
<text x="342.8" y="534.8" font-size="8.4" fill="#222" text-anchor="end" stroke="#222" stroke-width="0.22">800</text>
<line x1="347" y1="636.4" x2="502" y2="636.4" stroke="#1c1c1c" stroke-width="1.25"/>
<line x1="360.55" y1="609.57" x2="360.55" y2="605.4" stroke="#1a1a1a" stroke-width="1.15"/>
<line x1="357.35" y1="605.4" x2="363.75" y2="605.4" stroke="#1a1a1a" stroke-width="1.15"/>
<rect x="352.8" y="610.07" width="15.5" height="26.33" fill="#3742a3" stroke="#222" stroke-width="1.0"/>
<text x="359.8" y="648" font-size="9" fill="#111" text-anchor="middle" stroke="#111" stroke-width="0.22">CT</text>
<line x1="384.65" y1="572.66" x2="384.65" y2="566.8" stroke="#1a1a1a" stroke-width="1.15"/>
<line x1="381.45" y1="566.8" x2="387.85" y2="566.8" stroke="#1a1a1a" stroke-width="1.15"/>
<rect x="376.9" y="573.16" width="15.5" height="63.24" fill="#3742a3" stroke="#222" stroke-width="1.0"/>
<circle cx="382.65" cy="561.2" r="1.2" fill="#111"/>
<circle cx="386.65" cy="561.2" r="1.2" fill="#111"/>
<text x="387.2" y="648" font-size="9" fill="#111" text-anchor="middle" stroke="#111" stroke-width="0.22">TH-AG</text>
<line x1="412.5" y1="602.63" x2="412.5" y2="598.75" stroke="#1a1a1a" stroke-width="1.15"/>
<line x1="409.3" y1="598.75" x2="415.7" y2="598.75" stroke="#1a1a1a" stroke-width="1.15"/>
<rect x="404.75" y="603.13" width="15.5" height="33.27" fill="#4a8a45" stroke="#222" stroke-width="1.0"/>
<text x="410.9" y="648" font-size="9" fill="#111" text-anchor="middle" stroke="#111" stroke-width="0.22">CT</text>
<line x1="436.5" y1="601.72" x2="436.5" y2="599.5" stroke="#1a1a1a" stroke-width="1.15"/>
<line x1="433.3" y1="599.5" x2="439.7" y2="599.5" stroke="#1a1a1a" stroke-width="1.15"/>
<rect x="428.75" y="602.22" width="15.5" height="34.18" fill="#4a8a45" stroke="#222" stroke-width="1.0"/>
<text x="436.5" y="596.6" font-size="8" fill="#111" text-anchor="middle" font-weight="bold" font-style="italic" stroke="#111" stroke-width="0.22">#</text>
<text x="439" y="648" font-size="9" fill="#111" text-anchor="middle" stroke="#111" stroke-width="0.22">TH-AG</text>
<line x1="464.5" y1="605.38" x2="464.5" y2="600.75" stroke="#1a1a1a" stroke-width="1.15"/>
<line x1="461.3" y1="600.75" x2="467.7" y2="600.75" stroke="#1a1a1a" stroke-width="1.15"/>
<rect x="456.75" y="605.88" width="15.5" height="30.52" fill="#eda452" stroke="#222" stroke-width="1.0"/>
<text x="464.6" y="648" font-size="9" fill="#111" text-anchor="middle" stroke="#111" stroke-width="0.22">CT</text>
<line x1="488.25" y1="601.72" x2="488.25" y2="597.5" stroke="#1a1a1a" stroke-width="1.15"/>
<line x1="485.05" y1="597.5" x2="491.45" y2="597.5" stroke="#1a1a1a" stroke-width="1.15"/>
<rect x="480.5" y="602.22" width="15.5" height="34.18" fill="#eda452" stroke="#222" stroke-width="1.0"/>
<text x="488.25" y="594.6" font-size="8" fill="#111" text-anchor="middle" font-weight="bold" font-style="italic" stroke="#111" stroke-width="0.22">#</text>
<text x="490.8" y="648" font-size="9" fill="#111" text-anchor="middle" stroke="#111" stroke-width="0.22">TH-AG</text>
<text x="361.7" y="537.4" font-size="6.6" fill="#111" text-anchor="middle" font-weight="bold" stroke="#111" stroke-width="0.22">#</text>
<text x="365.8" y="537.4" font-size="6.8" fill="#111" font-style="italic" textLength="48.4" lengthAdjust="spacingAndGlyphs" stroke="#111" stroke-width="0.22">P&lt;0.01 vs si-CT</text>
<circle cx="361.7" cy="540.6" r="0.65" fill="#111"/>
<circle cx="364.3" cy="540.6" r="0.65" fill="#111"/>
<text x="366.8" y="544.1" font-size="6.7" fill="#111" font-style="italic" textLength="55.5" lengthAdjust="spacingAndGlyphs" stroke="#111" stroke-width="0.22">P&lt;0.01 vs Control</text>
<rect x="447.2" y="537.2" width="10.8" height="5.4" fill="#3a42a0" stroke="#2a2a2a" stroke-width="0.8"/>
<text x="464.3" y="542.9" font-size="8.8" fill="#111" textLength="19.5" lengthAdjust="spacingAndGlyphs" stroke="#111" stroke-width="0.22">si-CT</text>
<rect x="447.2" y="547.4" width="10.8" height="5.4" fill="#47834a" stroke="#2a2a2a" stroke-width="0.8"/>
<text x="464.3" y="553.1" font-size="8.8" fill="#111" textLength="32.3" lengthAdjust="spacingAndGlyphs" stroke="#111" stroke-width="0.22">si-ITGAV</text>
<rect x="447.2" y="557.6" width="10.8" height="5.4" fill="#eba563" stroke="#2a2a2a" stroke-width="0.8"/>
<text x="464.3" y="563.3" font-size="8.8" fill="#111" textLength="31" lengthAdjust="spacingAndGlyphs" stroke="#111" stroke-width="0.22">si-ITGB3</text>
<text transform="translate(320.4 582) rotate(-90)" font-size="9" text-anchor="middle" fill="#111" stroke="#111" stroke-width="0.18" textLength="104" lengthAdjust="spacingAndGlyphs">HMEC-1 migration (n° cells)</text>
</svg>
</body></html>
